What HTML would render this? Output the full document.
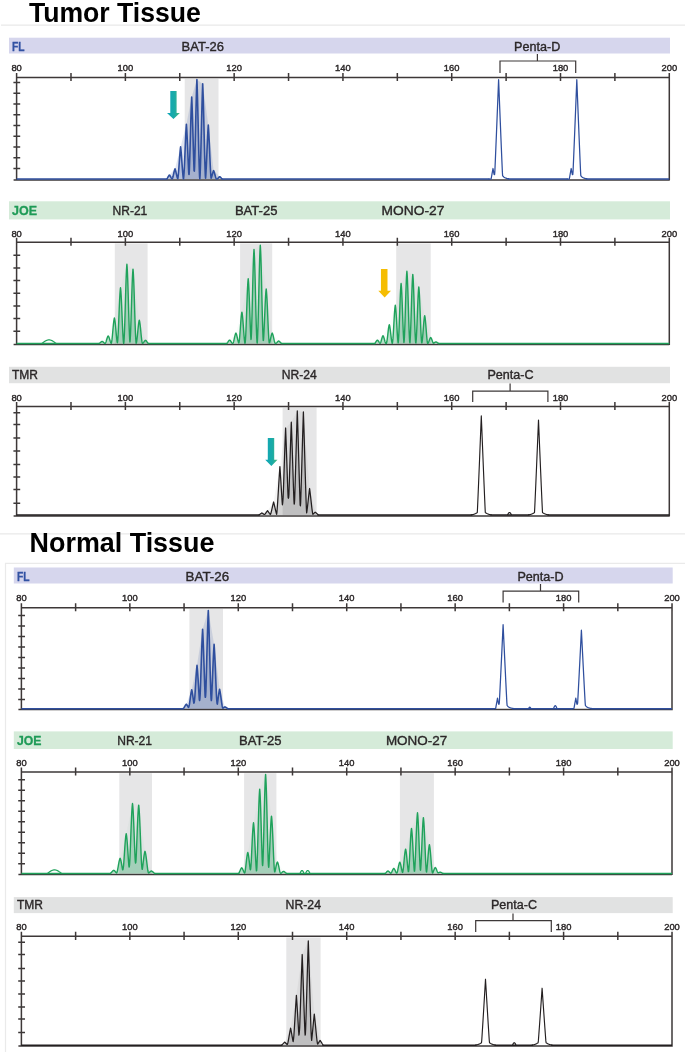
<!DOCTYPE html>
<html><head><meta charset="utf-8"><title>MSI electropherogram</title>
<style>html,body{margin:0;padding:0;background:#fff;}svg{display:block;}#w{width:685px;height:1052px;will-change:transform;transform:translateZ(0);}</style></head>
<body><div id="w">
<svg width="685" height="1052" viewBox="0 0 685 1052" font-family="Liberation Sans, sans-serif">
<rect width="685" height="1052" fill="#ffffff"/>
<path d="M1,25.2 H685 M0,533.8 H685" stroke="#e9e9e9" stroke-width="1.2" fill="none"/>
<path d="M685,563.3 H5.5 V1052" stroke="#eaeaea" stroke-width="1.2" fill="none"/>
<text x="28.9" y="22.2" font-size="28.2" fill="#000" font-weight="bold" text-anchor="start" textLength="172" lengthAdjust="spacingAndGlyphs" >Tumor Tissue</text>
<text x="29.6" y="552" font-size="28.2" fill="#000" font-weight="bold" text-anchor="start" textLength="184.8" lengthAdjust="spacingAndGlyphs" >Normal Tissue</text>
<rect x="9" y="37.7" width="661" height="15.799999999999997" fill="#d6d6ed"/>
<text x="12" y="51" font-size="12" fill="#3252a3" font-weight="bold" text-anchor="start" textLength="12.6" lengthAdjust="spacingAndGlyphs" stroke="#3252a3" stroke-width="0.3">FL</text>
<text x="181.6" y="51" font-size="12" fill="#2b2728" font-weight="normal" text-anchor="start" textLength="42.3" lengthAdjust="spacingAndGlyphs" stroke="#2b2728" stroke-width="0.35">BAT-26</text>
<text x="514.1" y="51" font-size="12" fill="#2b2728" font-weight="normal" text-anchor="start" textLength="46.2" lengthAdjust="spacingAndGlyphs" stroke="#2b2728" stroke-width="0.35">Penta-D</text>
<rect x="184.7" y="78.7" width="33.80000000000001" height="100.60000000000001" fill="#e6e6e7"/>
<text x="16.6" y="70.89999999999999" font-size="9.4" fill="#2b2728" font-weight="normal" text-anchor="middle" stroke="#2b2728" stroke-width="0.4">80</text>
<text x="125.4" y="70.89999999999999" font-size="9.4" fill="#2b2728" font-weight="normal" text-anchor="middle" stroke="#2b2728" stroke-width="0.4">100</text>
<text x="234.2" y="70.89999999999999" font-size="9.4" fill="#2b2728" font-weight="normal" text-anchor="middle" stroke="#2b2728" stroke-width="0.4">120</text>
<text x="342.9" y="70.89999999999999" font-size="9.4" fill="#2b2728" font-weight="normal" text-anchor="middle" stroke="#2b2728" stroke-width="0.4">140</text>
<text x="451.7" y="70.89999999999999" font-size="9.4" fill="#2b2728" font-weight="normal" text-anchor="middle" stroke="#2b2728" stroke-width="0.4">160</text>
<text x="560.5" y="70.89999999999999" font-size="9.4" fill="#2b2728" font-weight="normal" text-anchor="middle" stroke="#2b2728" stroke-width="0.4">180</text>
<text x="669.3" y="70.89999999999999" font-size="9.4" fill="#2b2728" font-weight="normal" text-anchor="middle" stroke="#2b2728" stroke-width="0.4">200</text>
<path d="M16.6,77.5 H669.3 M16.60,73.0 V81.1 M70.99,73.0 V81.1 M125.38,73.0 V81.1 M179.77,73.0 V81.1 M234.16,73.0 V81.1 M288.55,73.0 V81.1 M342.94,73.0 V81.1 M397.33,73.0 V81.1 M451.72,73.0 V81.1 M506.11,73.0 V81.1 M560.50,73.0 V81.1 M614.89,73.0 V81.1 M669.28,73.0 V81.1 M16.6,73.2 V180.5 M13.400000000000002,82.5 H20.200000000000003 M13.400000000000002,93.25 H20.200000000000003 M13.400000000000002,104.0 H20.200000000000003 M13.400000000000002,114.75 H20.200000000000003 M13.400000000000002,125.5 H20.200000000000003 M13.400000000000002,136.25 H20.200000000000003 M13.400000000000002,147.0 H20.200000000000003 M13.400000000000002,157.75 H20.200000000000003 M13.400000000000002,168.5 H20.200000000000003 M669.3,73.2 V180.5 M13.600000000000001,179.9 H669.3 " stroke="#3d3838" stroke-width="1.5" fill="none"/>
<path d="M537.4,54 V61 M500,72.9 V61 H575.7 V72.9" stroke="#3d3838" stroke-width="1.2" fill="none"/>
<path d="M166.58,179.00 L166.58,179.00 L166.58,179.00 L166.83,178.80 L167.08,178.52 L167.33,178.17 L167.58,177.78 L167.83,177.36 L168.08,176.92 L168.33,176.48 L168.58,176.07 L168.83,175.68 L169.08,175.35 L169.33,175.07 L169.40,175.00 L169.58,175.18 L169.83,175.49 L170.08,175.85 L170.33,176.25 L170.58,176.67 L170.83,177.11 L171.08,177.55 L171.33,177.96 L171.58,178.33 L171.83,178.65 L172.08,178.90 L172.33,178.72 L172.58,178.08 L172.83,177.26 L173.08,176.31 L173.33,175.25 L173.58,174.14 L173.83,173.02 L174.08,171.93 L174.33,170.92 L174.58,170.01 L174.83,169.24 L175.00,168.80 L175.08,169.00 L175.33,169.72 L175.58,170.58 L175.83,171.56 L176.08,172.62 L176.33,173.74 L176.58,174.86 L176.83,175.94 L177.08,176.93 L177.33,177.80 L177.58,178.52 L177.83,178.75 L178.08,176.99 L178.33,174.62 L178.58,171.78 L178.83,168.57 L179.08,165.13 L179.33,161.60 L179.58,158.11 L179.83,154.81 L180.08,151.81 L180.33,149.20 L180.58,147.05 L180.60,146.90 L180.83,148.83 L181.08,151.37 L181.33,154.31 L181.58,157.57 L181.83,161.03 L182.08,164.57 L182.33,168.03 L182.58,171.28 L182.83,174.20 L183.08,176.65 L183.33,178.52 L183.58,178.99 L183.83,176.26 L184.08,172.41 L184.33,167.70 L184.58,162.33 L184.83,156.52 L185.08,150.50 L185.33,144.51 L185.58,138.80 L185.83,133.56 L186.08,128.96 L186.33,125.13 L186.40,124.20 L186.58,126.72 L186.83,130.90 L187.08,135.79 L187.33,141.26 L187.58,147.13 L187.83,153.16 L188.08,159.11 L188.33,164.76 L188.58,169.86 L188.83,174.22 L189.08,174.51 L189.33,170.40 L189.58,163.58 L189.83,155.72 L190.08,147.13 L190.33,138.16 L190.58,129.16 L190.83,120.50 L191.08,112.50 L191.33,105.42 L191.58,99.44 L191.70,97.00 L191.83,99.66 L192.08,105.68 L192.33,112.81 L192.58,120.84 L192.83,129.52 L193.08,138.52 L193.33,147.49 L193.58,156.05 L193.83,163.88 L194.08,170.62 L194.33,171.09 L194.58,167.03 L194.83,158.48 L195.08,148.73 L195.33,138.18 L195.58,127.25 L195.83,116.38 L196.08,106.00 L196.33,96.49 L196.58,88.15 L196.83,81.19 L196.90,79.50 L197.08,84.07 L197.33,91.66 L197.58,100.55 L197.83,110.48 L198.08,121.13 L198.33,132.07 L198.58,142.89 L198.83,153.14 L199.08,162.41 L199.33,170.32 L199.58,176.52 L199.83,179.00 L200.08,175.38 L200.33,169.02 L200.58,161.12 L200.83,152.00 L201.08,142.04 L201.33,131.63 L201.58,121.20 L201.83,111.16 L202.08,101.88 L202.33,93.66 L202.58,86.73 L202.70,83.90 L202.83,86.98 L203.08,93.97 L203.33,102.23 L203.58,111.55 L203.83,121.61 L204.08,132.05 L204.33,142.45 L204.58,152.39 L204.83,161.46 L205.08,169.31 L205.33,175.59 L205.58,178.09 L205.83,174.89 L206.08,170.74 L206.33,165.81 L206.58,160.32 L206.83,154.48 L207.08,148.54 L207.33,142.72 L207.58,137.25 L207.83,132.33 L208.08,128.09 L208.30,125.00 L208.33,125.38 L208.58,129.04 L208.83,133.45 L209.08,138.52 L209.33,144.09 L209.58,149.96 L209.83,155.90 L210.08,161.68 L210.33,167.05 L210.58,171.81 L210.83,175.69 L211.08,178.14 L211.33,177.85 L211.58,177.11 L211.83,176.27 L212.08,175.37 L212.33,174.45 L212.58,173.53 L212.83,172.67 L213.08,171.89 L213.33,171.20 L213.58,170.64 L213.60,170.60 L213.83,171.10 L214.08,171.77 L214.33,172.54 L214.58,173.39 L214.83,174.30 L215.08,175.22 L215.33,176.13 L215.58,176.98 L215.83,177.74 L216.08,178.38 L216.33,178.87 L216.58,179.00 L216.83,179.00 L217.08,178.91 L217.33,178.76 L217.58,178.57 L217.83,178.35 L218.08,178.11 L218.33,177.85 L218.58,177.60 L218.83,177.36 L219.08,177.13 L219.33,176.94 L219.58,176.77 L219.70,176.70 L219.83,176.77 L220.08,176.94 L220.33,177.14 L220.58,177.37 L220.83,177.61 L221.08,177.86 L221.33,178.12 L221.58,178.36 L221.83,178.58 L222.08,178.77 L222.33,178.92 L222.52,179.00 L222.52,179.00 Z" fill="#2f4f9e" fill-opacity="0.24" stroke="none"/>
<path d="M168.14,179.00 L169.40,175.00 L175.00,168.80 L180.60,146.90 L186.40,124.20 L191.70,97.00 L196.90,79.50 L202.70,83.90 L208.30,125.00 L213.60,170.60 L219.70,176.70 L220.96,179.00 Z" fill="#2f4f9e" fill-opacity="0.15" stroke="none"/>
<path d="M16.60,179.0 H167.58 M221.52,179.0 H489.60 M507.60,179.0 H567.80 M585.80,179.0 H669.3" stroke="#2f4f9e" stroke-width="1.45" fill="none"/>
<path d="M488.60,179.00 L488.60,179.00 L488.60,179.00 L488.85,179.00 L489.10,179.00 L489.35,179.00 L489.60,179.00 L489.85,179.00 L490.10,179.00 L490.35,179.00 L490.60,179.00 L490.85,179.00 L491.10,179.00 L491.35,177.62 L491.60,176.24 L491.85,174.86 L492.10,173.47 L492.35,172.09 L492.60,170.71 L492.85,169.33 L493.00,168.50 L493.10,169.05 L493.35,170.43 L493.60,171.82 L493.85,173.20 L494.10,174.50 L494.35,174.50 L494.60,174.50 L494.85,171.50 L494.90,170.38 L495.10,165.80 L495.35,159.97 L495.60,154.05 L495.85,148.07 L496.10,142.03 L496.35,135.94 L496.60,129.81 L496.85,123.65 L497.10,117.45 L497.35,111.22 L497.60,104.96 L497.85,98.68 L498.10,92.37 L498.35,86.05 L498.60,79.70 L498.85,86.05 L499.10,92.37 L499.35,98.68 L499.60,104.96 L499.85,111.22 L500.10,117.45 L500.35,123.65 L500.60,129.81 L500.85,135.94 L501.10,142.03 L501.20,144.45 L501.35,148.07 L501.60,154.05 L501.85,159.97 L502.10,165.80 L502.35,171.50 L502.60,175.65 L502.85,175.98 L503.10,176.28 L503.35,176.55 L503.60,176.79 L503.85,177.01 L504.10,177.21 L504.35,177.39 L504.60,177.54 L504.85,177.69 L505.10,177.82 L505.35,177.94 L505.60,178.04 L505.85,178.14 L506.10,178.22 L506.35,178.30 L506.60,178.37 L506.85,178.43 L507.10,178.49 L507.35,178.54 L507.60,178.58 L507.85,178.62 L508.10,178.66 L508.35,178.69 L508.60,178.73 L508.60,179.00 L508.60,179.00" stroke="#2f4f9e" stroke-width="1.25" fill="none" stroke-linejoin="round"/>
<path d="M566.80,179.00 L566.80,179.00 L566.80,179.00 L567.05,179.00 L567.30,179.00 L567.55,179.00 L567.80,179.00 L568.05,179.00 L568.30,179.00 L568.55,179.00 L568.80,179.00 L569.05,179.00 L569.30,179.00 L569.55,177.62 L569.80,176.24 L570.05,174.86 L570.30,173.47 L570.55,172.09 L570.80,170.71 L571.05,169.33 L571.20,168.50 L571.30,169.05 L571.55,170.43 L571.80,171.82 L572.05,173.20 L572.30,174.50 L572.55,174.50 L572.80,174.50 L573.05,171.50 L573.10,170.38 L573.30,165.80 L573.55,159.97 L573.80,154.05 L574.05,148.07 L574.30,142.03 L574.55,135.94 L574.80,129.81 L575.05,123.65 L575.30,117.45 L575.55,111.22 L575.80,104.96 L576.05,98.68 L576.30,92.37 L576.55,86.05 L576.80,79.70 L577.05,86.05 L577.30,92.37 L577.55,98.68 L577.80,104.96 L578.05,111.22 L578.30,117.45 L578.55,123.65 L578.80,129.81 L579.05,135.94 L579.30,142.03 L579.40,144.45 L579.55,148.07 L579.80,154.05 L580.05,159.97 L580.30,165.80 L580.55,171.50 L580.80,175.65 L581.05,175.98 L581.30,176.28 L581.55,176.55 L581.80,176.79 L582.05,177.01 L582.30,177.21 L582.55,177.39 L582.80,177.54 L583.05,177.69 L583.30,177.82 L583.55,177.94 L583.80,178.04 L584.05,178.14 L584.30,178.22 L584.55,178.30 L584.80,178.37 L585.05,178.43 L585.30,178.49 L585.55,178.54 L585.80,178.58 L586.05,178.62 L586.30,178.66 L586.55,178.69 L586.80,178.73 L586.80,179.00 L586.80,179.00" stroke="#2f4f9e" stroke-width="1.25" fill="none" stroke-linejoin="round"/>
<path d="M166.58,179.00 L166.58,179.00 L166.58,179.00 L166.83,178.80 L167.08,178.52 L167.33,178.17 L167.58,177.78 L167.83,177.36 L168.08,176.92 L168.33,176.48 L168.58,176.07 L168.83,175.68 L169.08,175.35 L169.33,175.07 L169.40,175.00 L169.58,175.18 L169.83,175.49 L170.08,175.85 L170.33,176.25 L170.58,176.67 L170.83,177.11 L171.08,177.55 L171.33,177.96 L171.58,178.33 L171.83,178.65 L172.08,178.90 L172.33,178.72 L172.58,178.08 L172.83,177.26 L173.08,176.31 L173.33,175.25 L173.58,174.14 L173.83,173.02 L174.08,171.93 L174.33,170.92 L174.58,170.01 L174.83,169.24 L175.00,168.80 L175.08,169.00 L175.33,169.72 L175.58,170.58 L175.83,171.56 L176.08,172.62 L176.33,173.74 L176.58,174.86 L176.83,175.94 L177.08,176.93 L177.33,177.80 L177.58,178.52 L177.83,178.75 L178.08,176.99 L178.33,174.62 L178.58,171.78 L178.83,168.57 L179.08,165.13 L179.33,161.60 L179.58,158.11 L179.83,154.81 L180.08,151.81 L180.33,149.20 L180.58,147.05 L180.60,146.90 L180.83,148.83 L181.08,151.37 L181.33,154.31 L181.58,157.57 L181.83,161.03 L182.08,164.57 L182.33,168.03 L182.58,171.28 L182.83,174.20 L183.08,176.65 L183.33,178.52 L183.58,178.99 L183.83,176.26 L184.08,172.41 L184.33,167.70 L184.58,162.33 L184.83,156.52 L185.08,150.50 L185.33,144.51 L185.58,138.80 L185.83,133.56 L186.08,128.96 L186.33,125.13 L186.40,124.20 L186.58,126.72 L186.83,130.90 L187.08,135.79 L187.33,141.26 L187.58,147.13 L187.83,153.16 L188.08,159.11 L188.33,164.76 L188.58,169.86 L188.83,174.22 L189.08,174.51 L189.33,170.40 L189.58,163.58 L189.83,155.72 L190.08,147.13 L190.33,138.16 L190.58,129.16 L190.83,120.50 L191.08,112.50 L191.33,105.42 L191.58,99.44 L191.70,97.00 L191.83,99.66 L192.08,105.68 L192.33,112.81 L192.58,120.84 L192.83,129.52 L193.08,138.52 L193.33,147.49 L193.58,156.05 L193.83,163.88 L194.08,170.62 L194.33,171.09 L194.58,167.03 L194.83,158.48 L195.08,148.73 L195.33,138.18 L195.58,127.25 L195.83,116.38 L196.08,106.00 L196.33,96.49 L196.58,88.15 L196.83,81.19 L196.90,79.50 L197.08,84.07 L197.33,91.66 L197.58,100.55 L197.83,110.48 L198.08,121.13 L198.33,132.07 L198.58,142.89 L198.83,153.14 L199.08,162.41 L199.33,170.32 L199.58,176.52 L199.83,179.00 L200.08,175.38 L200.33,169.02 L200.58,161.12 L200.83,152.00 L201.08,142.04 L201.33,131.63 L201.58,121.20 L201.83,111.16 L202.08,101.88 L202.33,93.66 L202.58,86.73 L202.70,83.90 L202.83,86.98 L203.08,93.97 L203.33,102.23 L203.58,111.55 L203.83,121.61 L204.08,132.05 L204.33,142.45 L204.58,152.39 L204.83,161.46 L205.08,169.31 L205.33,175.59 L205.58,178.09 L205.83,174.89 L206.08,170.74 L206.33,165.81 L206.58,160.32 L206.83,154.48 L207.08,148.54 L207.33,142.72 L207.58,137.25 L207.83,132.33 L208.08,128.09 L208.30,125.00 L208.33,125.38 L208.58,129.04 L208.83,133.45 L209.08,138.52 L209.33,144.09 L209.58,149.96 L209.83,155.90 L210.08,161.68 L210.33,167.05 L210.58,171.81 L210.83,175.69 L211.08,178.14 L211.33,177.85 L211.58,177.11 L211.83,176.27 L212.08,175.37 L212.33,174.45 L212.58,173.53 L212.83,172.67 L213.08,171.89 L213.33,171.20 L213.58,170.64 L213.60,170.60 L213.83,171.10 L214.08,171.77 L214.33,172.54 L214.58,173.39 L214.83,174.30 L215.08,175.22 L215.33,176.13 L215.58,176.98 L215.83,177.74 L216.08,178.38 L216.33,178.87 L216.58,179.00 L216.83,179.00 L217.08,178.91 L217.33,178.76 L217.58,178.57 L217.83,178.35 L218.08,178.11 L218.33,177.85 L218.58,177.60 L218.83,177.36 L219.08,177.13 L219.33,176.94 L219.58,176.77 L219.70,176.70 L219.83,176.77 L220.08,176.94 L220.33,177.14 L220.58,177.37 L220.83,177.61 L221.08,177.86 L221.33,178.12 L221.58,178.36 L221.83,178.58 L222.08,178.77 L222.33,178.92 L222.52,179.00 L222.52,179.00" stroke="#2f4f9e" stroke-width="1.6" fill="none" stroke-linejoin="round"/>
<rect x="9" y="201.3" width="661" height="18.099999999999994" fill="#d5ebd9"/>
<text x="12" y="215.1" font-size="12" fill="#1f9b57" font-weight="bold" text-anchor="start" textLength="25" lengthAdjust="spacingAndGlyphs" stroke="#1f9b57" stroke-width="0.3">JOE</text>
<text x="112.5" y="215.1" font-size="12" fill="#2b2728" font-weight="normal" text-anchor="start" textLength="34.8" lengthAdjust="spacingAndGlyphs" stroke="#2b2728" stroke-width="0.35">NR-21</text>
<text x="234.9" y="215.1" font-size="12" fill="#2b2728" font-weight="normal" text-anchor="start" textLength="42.5" lengthAdjust="spacingAndGlyphs" stroke="#2b2728" stroke-width="0.35">BAT-25</text>
<text x="381.6" y="215.1" font-size="12" fill="#2b2728" font-weight="normal" text-anchor="start" textLength="62.7" lengthAdjust="spacingAndGlyphs" stroke="#2b2728" stroke-width="0.35">MONO-27</text>
<rect x="114.8" y="243.39999999999998" width="32.8" height="100.40000000000002" fill="#e6e6e7"/>
<rect x="240.1" y="243.39999999999998" width="32.099999999999994" height="100.40000000000002" fill="#e6e6e7"/>
<rect x="396.2" y="243.39999999999998" width="34.5" height="100.40000000000002" fill="#e6e6e7"/>
<text x="16.6" y="236.70000000000002" font-size="9.4" fill="#2b2728" font-weight="normal" text-anchor="middle" stroke="#2b2728" stroke-width="0.4">80</text>
<text x="125.4" y="236.70000000000002" font-size="9.4" fill="#2b2728" font-weight="normal" text-anchor="middle" stroke="#2b2728" stroke-width="0.4">100</text>
<text x="234.2" y="236.70000000000002" font-size="9.4" fill="#2b2728" font-weight="normal" text-anchor="middle" stroke="#2b2728" stroke-width="0.4">120</text>
<text x="342.9" y="236.70000000000002" font-size="9.4" fill="#2b2728" font-weight="normal" text-anchor="middle" stroke="#2b2728" stroke-width="0.4">140</text>
<text x="451.7" y="236.70000000000002" font-size="9.4" fill="#2b2728" font-weight="normal" text-anchor="middle" stroke="#2b2728" stroke-width="0.4">160</text>
<text x="560.5" y="236.70000000000002" font-size="9.4" fill="#2b2728" font-weight="normal" text-anchor="middle" stroke="#2b2728" stroke-width="0.4">180</text>
<text x="669.3" y="236.70000000000002" font-size="9.4" fill="#2b2728" font-weight="normal" text-anchor="middle" stroke="#2b2728" stroke-width="0.4">200</text>
<path d="M16.6,242.2 H669.3 M16.60,237.7 V245.79999999999998 M70.99,237.7 V245.79999999999998 M125.38,237.7 V245.79999999999998 M179.77,237.7 V245.79999999999998 M234.16,237.7 V245.79999999999998 M288.55,237.7 V245.79999999999998 M342.94,237.7 V245.79999999999998 M397.33,237.7 V245.79999999999998 M451.72,237.7 V245.79999999999998 M506.11,237.7 V245.79999999999998 M560.50,237.7 V245.79999999999998 M614.89,237.7 V245.79999999999998 M669.28,237.7 V245.79999999999998 M16.6,237.89999999999998 V345.0 M13.400000000000002,255.3 H20.200000000000003 M13.400000000000002,267.95 H20.200000000000003 M13.400000000000002,280.6 H20.200000000000003 M13.400000000000002,293.25 H20.200000000000003 M13.400000000000002,305.90000000000003 H20.200000000000003 M13.400000000000002,318.55 H20.200000000000003 M13.400000000000002,331.20000000000005 H20.200000000000003 M669.3,237.89999999999998 V345.0 M13.600000000000001,344.40000000000003 H669.3 " stroke="#3d3838" stroke-width="1.5" fill="none"/>
<path d="M98.94,343.50 L98.94,343.50 L98.94,343.50 L99.19,343.44 L99.44,343.33 L99.69,343.17 L99.94,342.99 L100.19,342.77 L100.44,342.54 L100.69,342.31 L100.94,342.09 L101.19,341.88 L101.44,341.70 L101.69,341.55 L101.94,341.44 L102.10,341.40 L102.19,341.42 L102.44,341.52 L102.69,341.65 L102.94,341.82 L103.19,342.02 L103.44,342.25 L103.69,342.48 L103.94,342.71 L104.19,342.93 L104.44,343.13 L104.69,343.29 L104.94,343.41 L105.19,343.38 L105.44,343.05 L105.69,342.56 L105.94,341.93 L106.19,341.19 L106.44,340.38 L106.69,339.54 L106.94,338.70 L107.19,337.92 L107.44,337.22 L107.69,336.64 L107.94,336.19 L108.19,335.91 L108.20,335.90 L108.44,336.16 L108.69,336.59 L108.94,337.17 L109.19,337.86 L109.44,338.64 L109.69,339.47 L109.94,340.31 L110.19,341.13 L110.44,341.87 L110.69,342.51 L110.94,343.02 L111.19,343.37 L111.44,342.95 L111.69,341.71 L111.94,339.95 L112.19,337.75 L112.44,335.22 L112.69,332.47 L112.94,329.63 L113.19,326.86 L113.44,324.27 L113.69,322.00 L113.94,320.13 L114.19,318.75 L114.40,318.00 L114.44,318.11 L114.69,319.14 L114.94,320.68 L115.19,322.68 L115.44,325.07 L115.69,327.73 L115.94,330.54 L116.19,333.36 L116.44,336.06 L116.69,338.50 L116.94,340.57 L117.19,342.17 L117.44,342.74 L117.69,340.83 L117.94,337.42 L118.19,332.97 L118.44,327.70 L118.69,321.84 L118.94,315.69 L119.19,309.54 L119.44,303.69 L119.69,298.42 L119.94,293.97 L120.19,290.51 L120.44,288.18 L120.50,287.80 L120.69,289.25 L120.94,292.17 L121.19,296.17 L121.44,301.08 L121.69,306.68 L121.94,312.72 L122.19,318.91 L122.44,324.94 L122.69,330.53 L122.94,335.40 L123.19,339.33 L123.44,342.13 L123.69,343.50 L123.94,341.79 L124.19,337.96 L124.44,332.49 L124.69,325.65 L124.94,317.77 L125.19,309.23 L125.44,300.43 L125.69,291.81 L125.94,283.78 L126.19,276.71 L126.44,270.92 L126.69,266.63 L126.90,264.30 L126.94,264.65 L127.19,267.83 L127.44,272.62 L127.69,278.85 L127.94,286.27 L128.19,294.53 L128.44,303.25 L128.69,312.01 L128.94,320.39 L129.19,327.97 L129.44,334.40 L129.69,339.37 L129.94,341.99 L130.19,339.93 L130.44,335.38 L130.69,329.44 L130.94,322.39 L131.19,314.57 L131.44,306.35 L131.69,298.14 L131.94,290.33 L132.19,283.29 L132.44,277.34 L132.69,272.72 L132.94,269.61 L133.00,269.10 L133.19,271.03 L133.44,274.94 L133.69,280.28 L133.94,286.83 L134.19,294.32 L134.44,302.39 L134.69,310.65 L134.94,318.71 L135.19,326.17 L135.44,332.69 L135.69,337.93 L135.94,341.67 L136.19,343.41 L136.44,342.61 L136.69,341.28 L136.94,339.50 L137.19,337.35 L137.44,334.94 L137.69,332.38 L137.94,329.80 L138.19,327.32 L138.44,325.06 L138.69,323.12 L138.94,321.59 L139.19,320.52 L139.30,320.20 L139.44,320.62 L139.69,321.75 L139.94,323.33 L140.19,325.32 L140.44,327.61 L140.69,330.11 L140.94,332.70 L141.19,335.24 L141.44,337.63 L141.69,339.73 L141.94,341.46 L142.19,342.73 L142.44,343.44 L142.69,343.35 L142.94,343.15 L143.19,342.90 L143.44,342.59 L143.69,342.26 L143.94,341.90 L144.19,341.55 L144.44,341.21 L144.69,340.91 L144.94,340.65 L145.19,340.46 L145.44,340.32 L145.50,340.30 L145.69,340.38 L145.94,340.55 L146.19,340.78 L146.44,341.06 L146.69,341.38 L146.94,341.73 L147.19,342.09 L147.44,342.43 L147.69,342.75 L147.94,343.03 L148.19,343.26 L148.44,343.42 L148.66,343.50 L148.66,343.50 Z" fill="#1fa25b" fill-opacity="0.3" stroke="none"/>
<path d="M98.85,343.50 L102.10,341.40 L108.20,335.90 L114.40,318.00 L120.50,287.80 L126.90,264.30 L133.00,269.10 L139.30,320.20 L145.50,340.30 L148.75,343.50 Z" fill="#1fa25b" fill-opacity="0.03" stroke="none"/>
<path d="M226.47,343.50 L226.47,343.50 L226.47,343.50 L226.72,343.40 L226.97,343.22 L227.22,342.97 L227.47,342.66 L227.72,342.31 L227.97,341.93 L228.22,341.55 L228.47,341.18 L228.72,340.85 L228.97,340.55 L229.22,340.32 L229.47,340.16 L229.60,340.10 L229.72,340.15 L229.97,340.31 L230.22,340.54 L230.47,340.83 L230.72,341.17 L230.97,341.54 L231.22,341.92 L231.47,342.29 L231.72,342.65 L231.97,342.96 L232.22,343.21 L232.47,343.39 L232.72,343.50 L232.97,343.28 L233.22,342.77 L233.47,342.04 L233.72,341.13 L233.97,340.08 L234.22,338.94 L234.47,337.77 L234.72,336.63 L234.97,335.58 L235.22,334.65 L235.47,333.90 L235.72,333.36 L235.90,333.10 L235.97,333.19 L236.22,333.64 L236.47,334.30 L236.72,335.15 L236.97,336.16 L237.22,337.27 L237.47,338.43 L237.72,339.58 L237.97,340.68 L238.22,341.66 L238.47,342.47 L238.72,343.08 L238.97,342.77 L239.22,341.28 L239.47,339.08 L239.72,336.33 L239.97,333.16 L240.22,329.73 L240.47,326.21 L240.72,322.77 L240.97,319.58 L241.22,316.79 L241.47,314.52 L241.72,312.87 L241.90,312.10 L241.97,312.36 L242.22,313.72 L242.47,315.72 L242.72,318.29 L242.97,321.33 L243.22,324.68 L243.47,328.19 L243.72,331.68 L243.97,334.98 L244.22,337.93 L244.47,340.39 L244.72,342.23 L244.97,343.36 L245.22,342.56 L245.47,339.68 L245.72,335.40 L245.97,329.94 L246.22,323.56 L246.47,316.58 L246.72,309.33 L246.97,302.17 L247.22,295.47 L247.47,289.53 L247.72,284.63 L247.97,280.96 L248.20,278.80 L248.22,278.94 L248.47,281.46 L248.72,285.33 L248.97,290.41 L249.22,296.50 L249.47,303.30 L249.72,310.49 L249.97,317.72 L250.22,324.63 L250.47,330.89 L250.72,336.17 L250.97,339.43 L251.22,338.32 L251.47,333.12 L251.72,325.49 L251.97,316.45 L252.22,306.42 L252.47,295.91 L252.72,285.44 L252.97,275.52 L253.22,266.62 L253.47,259.16 L253.72,253.46 L253.97,249.71 L254.00,249.40 L254.22,252.37 L254.47,257.62 L254.72,264.69 L254.97,273.27 L255.22,282.99 L255.47,293.38 L255.72,303.92 L255.97,314.11 L256.22,323.43 L256.47,331.44 L256.72,337.73 L256.97,342.00 L257.22,343.14 L257.47,339.71 L257.72,334.03 L257.97,326.41 L258.22,317.23 L258.47,306.92 L258.72,296.00 L258.97,285.01 L259.22,274.48 L259.47,264.94 L259.72,256.82 L259.97,250.47 L260.22,246.14 L260.30,245.20 L260.47,247.46 L260.72,252.53 L260.97,259.55 L261.22,268.23 L261.47,278.19 L261.72,288.94 L261.97,299.97 L262.22,310.73 L262.47,320.69 L262.72,329.36 L262.97,336.32 L263.22,340.43 L263.47,340.28 L263.72,336.68 L263.97,332.08 L264.22,326.71 L264.47,320.82 L264.72,314.71 L264.97,308.69 L265.22,303.04 L265.47,298.04 L265.72,293.91 L265.97,290.82 L266.20,289.00 L266.22,289.12 L266.47,291.24 L266.72,294.50 L266.97,298.78 L267.22,303.91 L267.47,309.63 L267.72,315.69 L267.97,321.78 L268.22,327.61 L268.47,332.87 L268.72,337.33 L268.97,340.75 L269.22,342.82 L269.47,342.89 L269.72,342.20 L269.97,341.32 L270.22,340.30 L270.47,339.17 L270.72,338.01 L270.97,336.86 L271.22,335.78 L271.47,334.82 L271.72,334.04 L271.97,333.45 L272.20,333.10 L272.22,333.12 L272.47,333.53 L272.72,334.15 L272.97,334.97 L273.22,335.94 L273.47,337.04 L273.72,338.19 L273.97,339.36 L274.22,340.47 L274.47,341.47 L274.72,342.32 L274.97,342.98 L275.22,343.40 L275.47,343.50 L275.72,343.46 L275.97,343.35 L276.22,343.19 L276.47,342.98 L276.72,342.73 L276.97,342.46 L277.22,342.18 L277.47,341.90 L277.72,341.64 L277.97,341.41 L278.22,341.23 L278.47,341.08 L278.70,341.00 L278.72,341.01 L278.97,341.10 L279.22,341.25 L279.47,341.45 L279.72,341.68 L279.97,341.95 L280.22,342.22 L280.47,342.50 L280.72,342.77 L280.97,343.01 L281.22,343.22 L281.47,343.37 L281.72,343.48 L281.83,343.50 L281.83,343.50 Z" fill="#1fa25b" fill-opacity="0.3" stroke="none"/>
<path d="M226.40,343.50 L229.60,340.10 L235.90,333.10 L241.90,312.10 L248.20,278.80 L254.00,249.40 L260.30,245.20 L266.20,289.00 L272.20,333.10 L278.70,341.00 L281.90,343.50 Z" fill="#1fa25b" fill-opacity="0.03" stroke="none"/>
<path d="M374.42,343.50 L374.42,343.50 L374.42,343.50 L374.67,343.39 L374.92,343.19 L375.17,342.92 L375.42,342.59 L375.67,342.21 L375.92,341.82 L376.17,341.42 L376.42,341.04 L376.67,340.71 L376.92,340.43 L377.17,340.22 L377.40,340.10 L377.42,340.11 L377.67,340.25 L377.92,340.47 L378.17,340.76 L378.42,341.10 L378.67,341.48 L378.92,341.88 L379.17,342.27 L379.42,342.64 L379.67,342.97 L379.92,343.23 L380.17,343.29 L380.42,343.00 L380.67,342.44 L380.92,341.73 L381.17,340.90 L381.42,340.00 L381.67,339.08 L381.92,338.20 L382.17,337.38 L382.42,336.69 L382.67,336.15 L382.92,335.78 L383.00,335.70 L383.17,335.89 L383.42,336.32 L383.67,336.92 L383.92,337.66 L384.17,338.51 L384.42,339.41 L384.67,340.33 L384.92,341.21 L385.17,342.00 L385.42,342.66 L385.67,343.16 L385.92,343.46 L386.17,343.50 L386.42,343.32 L386.67,342.51 L386.92,341.24 L387.17,339.59 L387.42,337.65 L387.67,335.51 L387.92,333.30 L388.17,331.13 L388.42,329.13 L388.67,327.39 L388.92,326.00 L389.17,325.03 L389.30,324.70 L389.42,325.00 L389.67,325.96 L389.92,327.33 L390.17,329.05 L390.42,331.05 L390.67,333.21 L390.92,335.42 L391.17,337.56 L391.42,339.52 L391.67,341.18 L391.92,342.47 L392.17,343.30 L392.42,343.13 L392.67,341.48 L392.92,338.89 L393.17,335.52 L393.42,331.55 L393.67,327.18 L393.92,322.66 L394.17,318.24 L394.42,314.15 L394.67,310.60 L394.92,307.76 L395.17,305.78 L395.30,305.10 L395.42,305.72 L395.67,307.67 L395.92,310.47 L396.17,313.99 L396.42,318.07 L396.67,322.48 L396.92,327.00 L397.17,331.38 L397.42,335.37 L397.67,338.77 L397.92,341.39 L398.17,342.84 L398.42,340.98 L398.67,337.21 L398.92,332.17 L399.17,326.12 L399.42,319.40 L399.67,312.36 L399.92,305.38 L400.17,298.86 L400.42,293.11 L400.67,288.45 L400.92,285.07 L401.10,283.50 L401.17,284.02 L401.42,286.79 L401.67,290.91 L401.92,296.21 L402.17,302.43 L402.42,309.26 L402.67,316.31 L402.92,323.23 L403.17,329.61 L403.42,335.14 L403.67,339.49 L403.92,342.44 L404.17,341.17 L404.42,336.97 L404.67,331.19 L404.92,324.12 L405.17,316.16 L405.42,307.73 L405.67,299.28 L405.92,291.28 L406.17,284.16 L406.42,278.26 L406.67,273.87 L406.90,271.30 L406.92,271.47 L407.17,274.46 L407.42,279.11 L407.67,285.22 L407.92,292.52 L408.17,300.61 L408.42,309.09 L408.67,317.48 L408.92,325.33 L409.17,332.21 L409.42,337.76 L409.67,341.67 L409.92,342.84 L410.17,339.86 L410.42,335.20 L410.67,329.14 L410.92,321.99 L411.17,314.13 L411.42,306.00 L411.67,298.04 L411.92,290.68 L412.17,284.29 L412.42,279.20 L412.67,275.62 L412.80,274.40 L412.92,275.51 L413.17,279.02 L413.42,284.06 L413.67,290.40 L413.92,297.74 L414.17,305.68 L414.42,313.81 L414.67,321.68 L414.92,328.87 L415.17,334.99 L415.42,339.70 L415.67,342.76 L415.92,342.96 L416.17,340.52 L416.42,336.72 L416.67,331.76 L416.92,325.91 L417.17,319.49 L417.42,312.84 L417.67,306.33 L417.92,300.31 L418.17,295.09 L418.42,290.92 L418.67,288.00 L418.80,287.00 L418.92,287.91 L419.17,290.78 L419.42,294.90 L419.67,300.08 L419.92,306.08 L420.17,312.58 L420.42,319.22 L420.67,325.66 L420.92,331.54 L421.17,336.54 L421.42,340.40 L421.67,342.89 L421.92,342.84 L422.17,341.35 L422.42,339.23 L422.67,336.59 L422.92,333.57 L423.17,330.33 L423.42,327.06 L423.67,323.92 L423.92,321.09 L424.17,318.70 L424.42,316.88 L424.67,315.70 L424.70,315.60 L424.92,316.54 L425.17,318.21 L425.42,320.47 L425.67,323.21 L425.92,326.28 L426.17,329.54 L426.42,332.81 L426.67,335.90 L426.92,338.64 L427.17,340.90 L427.42,342.55 L427.67,343.48 L427.92,343.36 L428.17,343.04 L428.42,342.58 L428.67,342.01 L428.92,341.36 L429.17,340.67 L429.42,339.96 L429.67,339.29 L429.92,338.68 L430.17,338.17 L430.42,337.78 L430.67,337.52 L430.70,337.50 L430.92,337.70 L431.17,338.06 L431.42,338.55 L431.67,339.14 L431.92,339.80 L432.17,340.50 L432.42,341.20 L432.67,341.86 L432.92,342.45 L433.17,342.89 L433.42,343.15 L433.67,343.22 L433.92,343.07 L434.17,342.89 L434.42,342.71 L434.67,342.52 L434.92,342.34 L435.17,342.18 L435.42,342.05 L435.67,341.96 L435.90,341.90 L435.92,341.90 L436.17,341.97 L436.42,342.07 L436.67,342.21 L436.92,342.37 L437.17,342.55 L437.42,342.74 L437.67,342.92 L437.92,343.10 L438.17,343.25 L438.42,343.37 L438.67,343.46 L438.88,343.50 L438.88,343.50 Z" fill="#1fa25b" fill-opacity="0.3" stroke="none"/>
<path d="M374.27,343.50 L377.40,340.10 L383.00,335.70 L389.30,324.70 L395.30,305.10 L401.10,283.50 L406.90,271.30 L412.80,274.40 L418.80,287.00 L424.70,315.60 L430.70,337.50 L435.90,341.90 L439.02,343.50 Z" fill="#1fa25b" fill-opacity="0.03" stroke="none"/>
<path d="M16.60,343.5 H99.94 M147.66,343.5 H227.47 M280.83,343.5 H375.42 M437.88,343.5 H669.3" stroke="#1fa25b" stroke-width="1.45" fill="none"/>
<path d="M41.90,343.50 L41.90,343.50 L41.90,343.50 L42.15,343.30 L42.40,343.10 L42.65,342.91 L42.90,342.71 L43.15,342.52 L43.40,342.33 L43.65,342.14 L43.90,341.96 L44.15,341.78 L44.40,341.61 L44.65,341.44 L44.90,341.28 L45.15,341.13 L45.40,340.98 L45.65,340.84 L45.90,340.71 L46.15,340.59 L46.40,340.48 L46.65,340.38 L46.90,340.28 L47.15,340.20 L47.40,340.12 L47.65,340.06 L47.90,340.01 L48.15,339.96 L48.40,339.93 L48.65,339.91 L48.90,339.90 L49.15,339.90 L49.40,339.91 L49.65,339.94 L49.90,339.97 L50.15,340.02 L50.40,340.07 L50.65,340.14 L50.90,340.21 L51.15,340.30 L51.40,340.40 L51.65,340.50 L51.90,340.62 L52.15,340.74 L52.40,340.87 L52.65,341.01 L52.90,341.16 L53.15,341.31 L53.40,341.48 L53.65,341.64 L53.90,341.82 L54.15,341.99 L54.40,342.18 L54.65,342.36 L54.90,342.56 L55.15,342.75 L55.40,342.94 L55.65,343.14 L55.90,343.34 L56.10,343.50 L56.10,343.50" stroke="#1fa25b" stroke-width="1.2" fill="none" stroke-linejoin="round"/>
<path d="M98.94,343.50 L98.94,343.50 L98.94,343.50 L99.19,343.44 L99.44,343.33 L99.69,343.17 L99.94,342.99 L100.19,342.77 L100.44,342.54 L100.69,342.31 L100.94,342.09 L101.19,341.88 L101.44,341.70 L101.69,341.55 L101.94,341.44 L102.10,341.40 L102.19,341.42 L102.44,341.52 L102.69,341.65 L102.94,341.82 L103.19,342.02 L103.44,342.25 L103.69,342.48 L103.94,342.71 L104.19,342.93 L104.44,343.13 L104.69,343.29 L104.94,343.41 L105.19,343.38 L105.44,343.05 L105.69,342.56 L105.94,341.93 L106.19,341.19 L106.44,340.38 L106.69,339.54 L106.94,338.70 L107.19,337.92 L107.44,337.22 L107.69,336.64 L107.94,336.19 L108.19,335.91 L108.20,335.90 L108.44,336.16 L108.69,336.59 L108.94,337.17 L109.19,337.86 L109.44,338.64 L109.69,339.47 L109.94,340.31 L110.19,341.13 L110.44,341.87 L110.69,342.51 L110.94,343.02 L111.19,343.37 L111.44,342.95 L111.69,341.71 L111.94,339.95 L112.19,337.75 L112.44,335.22 L112.69,332.47 L112.94,329.63 L113.19,326.86 L113.44,324.27 L113.69,322.00 L113.94,320.13 L114.19,318.75 L114.40,318.00 L114.44,318.11 L114.69,319.14 L114.94,320.68 L115.19,322.68 L115.44,325.07 L115.69,327.73 L115.94,330.54 L116.19,333.36 L116.44,336.06 L116.69,338.50 L116.94,340.57 L117.19,342.17 L117.44,342.74 L117.69,340.83 L117.94,337.42 L118.19,332.97 L118.44,327.70 L118.69,321.84 L118.94,315.69 L119.19,309.54 L119.44,303.69 L119.69,298.42 L119.94,293.97 L120.19,290.51 L120.44,288.18 L120.50,287.80 L120.69,289.25 L120.94,292.17 L121.19,296.17 L121.44,301.08 L121.69,306.68 L121.94,312.72 L122.19,318.91 L122.44,324.94 L122.69,330.53 L122.94,335.40 L123.19,339.33 L123.44,342.13 L123.69,343.50 L123.94,341.79 L124.19,337.96 L124.44,332.49 L124.69,325.65 L124.94,317.77 L125.19,309.23 L125.44,300.43 L125.69,291.81 L125.94,283.78 L126.19,276.71 L126.44,270.92 L126.69,266.63 L126.90,264.30 L126.94,264.65 L127.19,267.83 L127.44,272.62 L127.69,278.85 L127.94,286.27 L128.19,294.53 L128.44,303.25 L128.69,312.01 L128.94,320.39 L129.19,327.97 L129.44,334.40 L129.69,339.37 L129.94,341.99 L130.19,339.93 L130.44,335.38 L130.69,329.44 L130.94,322.39 L131.19,314.57 L131.44,306.35 L131.69,298.14 L131.94,290.33 L132.19,283.29 L132.44,277.34 L132.69,272.72 L132.94,269.61 L133.00,269.10 L133.19,271.03 L133.44,274.94 L133.69,280.28 L133.94,286.83 L134.19,294.32 L134.44,302.39 L134.69,310.65 L134.94,318.71 L135.19,326.17 L135.44,332.69 L135.69,337.93 L135.94,341.67 L136.19,343.41 L136.44,342.61 L136.69,341.28 L136.94,339.50 L137.19,337.35 L137.44,334.94 L137.69,332.38 L137.94,329.80 L138.19,327.32 L138.44,325.06 L138.69,323.12 L138.94,321.59 L139.19,320.52 L139.30,320.20 L139.44,320.62 L139.69,321.75 L139.94,323.33 L140.19,325.32 L140.44,327.61 L140.69,330.11 L140.94,332.70 L141.19,335.24 L141.44,337.63 L141.69,339.73 L141.94,341.46 L142.19,342.73 L142.44,343.44 L142.69,343.35 L142.94,343.15 L143.19,342.90 L143.44,342.59 L143.69,342.26 L143.94,341.90 L144.19,341.55 L144.44,341.21 L144.69,340.91 L144.94,340.65 L145.19,340.46 L145.44,340.32 L145.50,340.30 L145.69,340.38 L145.94,340.55 L146.19,340.78 L146.44,341.06 L146.69,341.38 L146.94,341.73 L147.19,342.09 L147.44,342.43 L147.69,342.75 L147.94,343.03 L148.19,343.26 L148.44,343.42 L148.66,343.50 L148.66,343.50" stroke="#1fa25b" stroke-width="1.4" fill="none" stroke-linejoin="round"/>
<path d="M226.47,343.50 L226.47,343.50 L226.47,343.50 L226.72,343.40 L226.97,343.22 L227.22,342.97 L227.47,342.66 L227.72,342.31 L227.97,341.93 L228.22,341.55 L228.47,341.18 L228.72,340.85 L228.97,340.55 L229.22,340.32 L229.47,340.16 L229.60,340.10 L229.72,340.15 L229.97,340.31 L230.22,340.54 L230.47,340.83 L230.72,341.17 L230.97,341.54 L231.22,341.92 L231.47,342.29 L231.72,342.65 L231.97,342.96 L232.22,343.21 L232.47,343.39 L232.72,343.50 L232.97,343.28 L233.22,342.77 L233.47,342.04 L233.72,341.13 L233.97,340.08 L234.22,338.94 L234.47,337.77 L234.72,336.63 L234.97,335.58 L235.22,334.65 L235.47,333.90 L235.72,333.36 L235.90,333.10 L235.97,333.19 L236.22,333.64 L236.47,334.30 L236.72,335.15 L236.97,336.16 L237.22,337.27 L237.47,338.43 L237.72,339.58 L237.97,340.68 L238.22,341.66 L238.47,342.47 L238.72,343.08 L238.97,342.77 L239.22,341.28 L239.47,339.08 L239.72,336.33 L239.97,333.16 L240.22,329.73 L240.47,326.21 L240.72,322.77 L240.97,319.58 L241.22,316.79 L241.47,314.52 L241.72,312.87 L241.90,312.10 L241.97,312.36 L242.22,313.72 L242.47,315.72 L242.72,318.29 L242.97,321.33 L243.22,324.68 L243.47,328.19 L243.72,331.68 L243.97,334.98 L244.22,337.93 L244.47,340.39 L244.72,342.23 L244.97,343.36 L245.22,342.56 L245.47,339.68 L245.72,335.40 L245.97,329.94 L246.22,323.56 L246.47,316.58 L246.72,309.33 L246.97,302.17 L247.22,295.47 L247.47,289.53 L247.72,284.63 L247.97,280.96 L248.20,278.80 L248.22,278.94 L248.47,281.46 L248.72,285.33 L248.97,290.41 L249.22,296.50 L249.47,303.30 L249.72,310.49 L249.97,317.72 L250.22,324.63 L250.47,330.89 L250.72,336.17 L250.97,339.43 L251.22,338.32 L251.47,333.12 L251.72,325.49 L251.97,316.45 L252.22,306.42 L252.47,295.91 L252.72,285.44 L252.97,275.52 L253.22,266.62 L253.47,259.16 L253.72,253.46 L253.97,249.71 L254.00,249.40 L254.22,252.37 L254.47,257.62 L254.72,264.69 L254.97,273.27 L255.22,282.99 L255.47,293.38 L255.72,303.92 L255.97,314.11 L256.22,323.43 L256.47,331.44 L256.72,337.73 L256.97,342.00 L257.22,343.14 L257.47,339.71 L257.72,334.03 L257.97,326.41 L258.22,317.23 L258.47,306.92 L258.72,296.00 L258.97,285.01 L259.22,274.48 L259.47,264.94 L259.72,256.82 L259.97,250.47 L260.22,246.14 L260.30,245.20 L260.47,247.46 L260.72,252.53 L260.97,259.55 L261.22,268.23 L261.47,278.19 L261.72,288.94 L261.97,299.97 L262.22,310.73 L262.47,320.69 L262.72,329.36 L262.97,336.32 L263.22,340.43 L263.47,340.28 L263.72,336.68 L263.97,332.08 L264.22,326.71 L264.47,320.82 L264.72,314.71 L264.97,308.69 L265.22,303.04 L265.47,298.04 L265.72,293.91 L265.97,290.82 L266.20,289.00 L266.22,289.12 L266.47,291.24 L266.72,294.50 L266.97,298.78 L267.22,303.91 L267.47,309.63 L267.72,315.69 L267.97,321.78 L268.22,327.61 L268.47,332.87 L268.72,337.33 L268.97,340.75 L269.22,342.82 L269.47,342.89 L269.72,342.20 L269.97,341.32 L270.22,340.30 L270.47,339.17 L270.72,338.01 L270.97,336.86 L271.22,335.78 L271.47,334.82 L271.72,334.04 L271.97,333.45 L272.20,333.10 L272.22,333.12 L272.47,333.53 L272.72,334.15 L272.97,334.97 L273.22,335.94 L273.47,337.04 L273.72,338.19 L273.97,339.36 L274.22,340.47 L274.47,341.47 L274.72,342.32 L274.97,342.98 L275.22,343.40 L275.47,343.50 L275.72,343.46 L275.97,343.35 L276.22,343.19 L276.47,342.98 L276.72,342.73 L276.97,342.46 L277.22,342.18 L277.47,341.90 L277.72,341.64 L277.97,341.41 L278.22,341.23 L278.47,341.08 L278.70,341.00 L278.72,341.01 L278.97,341.10 L279.22,341.25 L279.47,341.45 L279.72,341.68 L279.97,341.95 L280.22,342.22 L280.47,342.50 L280.72,342.77 L280.97,343.01 L281.22,343.22 L281.47,343.37 L281.72,343.48 L281.83,343.50 L281.83,343.50" stroke="#1fa25b" stroke-width="1.4" fill="none" stroke-linejoin="round"/>
<path d="M374.42,343.50 L374.42,343.50 L374.42,343.50 L374.67,343.39 L374.92,343.19 L375.17,342.92 L375.42,342.59 L375.67,342.21 L375.92,341.82 L376.17,341.42 L376.42,341.04 L376.67,340.71 L376.92,340.43 L377.17,340.22 L377.40,340.10 L377.42,340.11 L377.67,340.25 L377.92,340.47 L378.17,340.76 L378.42,341.10 L378.67,341.48 L378.92,341.88 L379.17,342.27 L379.42,342.64 L379.67,342.97 L379.92,343.23 L380.17,343.29 L380.42,343.00 L380.67,342.44 L380.92,341.73 L381.17,340.90 L381.42,340.00 L381.67,339.08 L381.92,338.20 L382.17,337.38 L382.42,336.69 L382.67,336.15 L382.92,335.78 L383.00,335.70 L383.17,335.89 L383.42,336.32 L383.67,336.92 L383.92,337.66 L384.17,338.51 L384.42,339.41 L384.67,340.33 L384.92,341.21 L385.17,342.00 L385.42,342.66 L385.67,343.16 L385.92,343.46 L386.17,343.50 L386.42,343.32 L386.67,342.51 L386.92,341.24 L387.17,339.59 L387.42,337.65 L387.67,335.51 L387.92,333.30 L388.17,331.13 L388.42,329.13 L388.67,327.39 L388.92,326.00 L389.17,325.03 L389.30,324.70 L389.42,325.00 L389.67,325.96 L389.92,327.33 L390.17,329.05 L390.42,331.05 L390.67,333.21 L390.92,335.42 L391.17,337.56 L391.42,339.52 L391.67,341.18 L391.92,342.47 L392.17,343.30 L392.42,343.13 L392.67,341.48 L392.92,338.89 L393.17,335.52 L393.42,331.55 L393.67,327.18 L393.92,322.66 L394.17,318.24 L394.42,314.15 L394.67,310.60 L394.92,307.76 L395.17,305.78 L395.30,305.10 L395.42,305.72 L395.67,307.67 L395.92,310.47 L396.17,313.99 L396.42,318.07 L396.67,322.48 L396.92,327.00 L397.17,331.38 L397.42,335.37 L397.67,338.77 L397.92,341.39 L398.17,342.84 L398.42,340.98 L398.67,337.21 L398.92,332.17 L399.17,326.12 L399.42,319.40 L399.67,312.36 L399.92,305.38 L400.17,298.86 L400.42,293.11 L400.67,288.45 L400.92,285.07 L401.10,283.50 L401.17,284.02 L401.42,286.79 L401.67,290.91 L401.92,296.21 L402.17,302.43 L402.42,309.26 L402.67,316.31 L402.92,323.23 L403.17,329.61 L403.42,335.14 L403.67,339.49 L403.92,342.44 L404.17,341.17 L404.42,336.97 L404.67,331.19 L404.92,324.12 L405.17,316.16 L405.42,307.73 L405.67,299.28 L405.92,291.28 L406.17,284.16 L406.42,278.26 L406.67,273.87 L406.90,271.30 L406.92,271.47 L407.17,274.46 L407.42,279.11 L407.67,285.22 L407.92,292.52 L408.17,300.61 L408.42,309.09 L408.67,317.48 L408.92,325.33 L409.17,332.21 L409.42,337.76 L409.67,341.67 L409.92,342.84 L410.17,339.86 L410.42,335.20 L410.67,329.14 L410.92,321.99 L411.17,314.13 L411.42,306.00 L411.67,298.04 L411.92,290.68 L412.17,284.29 L412.42,279.20 L412.67,275.62 L412.80,274.40 L412.92,275.51 L413.17,279.02 L413.42,284.06 L413.67,290.40 L413.92,297.74 L414.17,305.68 L414.42,313.81 L414.67,321.68 L414.92,328.87 L415.17,334.99 L415.42,339.70 L415.67,342.76 L415.92,342.96 L416.17,340.52 L416.42,336.72 L416.67,331.76 L416.92,325.91 L417.17,319.49 L417.42,312.84 L417.67,306.33 L417.92,300.31 L418.17,295.09 L418.42,290.92 L418.67,288.00 L418.80,287.00 L418.92,287.91 L419.17,290.78 L419.42,294.90 L419.67,300.08 L419.92,306.08 L420.17,312.58 L420.42,319.22 L420.67,325.66 L420.92,331.54 L421.17,336.54 L421.42,340.40 L421.67,342.89 L421.92,342.84 L422.17,341.35 L422.42,339.23 L422.67,336.59 L422.92,333.57 L423.17,330.33 L423.42,327.06 L423.67,323.92 L423.92,321.09 L424.17,318.70 L424.42,316.88 L424.67,315.70 L424.70,315.60 L424.92,316.54 L425.17,318.21 L425.42,320.47 L425.67,323.21 L425.92,326.28 L426.17,329.54 L426.42,332.81 L426.67,335.90 L426.92,338.64 L427.17,340.90 L427.42,342.55 L427.67,343.48 L427.92,343.36 L428.17,343.04 L428.42,342.58 L428.67,342.01 L428.92,341.36 L429.17,340.67 L429.42,339.96 L429.67,339.29 L429.92,338.68 L430.17,338.17 L430.42,337.78 L430.67,337.52 L430.70,337.50 L430.92,337.70 L431.17,338.06 L431.42,338.55 L431.67,339.14 L431.92,339.80 L432.17,340.50 L432.42,341.20 L432.67,341.86 L432.92,342.45 L433.17,342.89 L433.42,343.15 L433.67,343.22 L433.92,343.07 L434.17,342.89 L434.42,342.71 L434.67,342.52 L434.92,342.34 L435.17,342.18 L435.42,342.05 L435.67,341.96 L435.90,341.90 L435.92,341.90 L436.17,341.97 L436.42,342.07 L436.67,342.21 L436.92,342.37 L437.17,342.55 L437.42,342.74 L437.67,342.92 L437.92,343.10 L438.17,343.25 L438.42,343.37 L438.67,343.46 L438.88,343.50 L438.88,343.50" stroke="#1fa25b" stroke-width="1.4" fill="none" stroke-linejoin="round"/>
<rect x="9" y="366.8" width="661" height="16.399999999999977" fill="#e1e2e2"/>
<text x="12" y="379" font-size="12" fill="#2b2728" font-weight="normal" text-anchor="start" textLength="26" lengthAdjust="spacingAndGlyphs" stroke="#2b2728" stroke-width="0.35">TMR</text>
<text x="281.7" y="379" font-size="12" fill="#2b2728" font-weight="normal" text-anchor="start" textLength="35" lengthAdjust="spacingAndGlyphs" stroke="#2b2728" stroke-width="0.35">NR-24</text>
<text x="487.4" y="379" font-size="12" fill="#2b2728" font-weight="normal" text-anchor="start" textLength="46.2" lengthAdjust="spacingAndGlyphs" stroke="#2b2728" stroke-width="0.35">Penta-C</text>
<rect x="282.6" y="407.7" width="34.0" height="107.59999999999995" fill="#e6e6e7"/>
<text x="16.6" y="400.90000000000003" font-size="9.4" fill="#2b2728" font-weight="normal" text-anchor="middle" stroke="#2b2728" stroke-width="0.4">80</text>
<text x="125.4" y="400.90000000000003" font-size="9.4" fill="#2b2728" font-weight="normal" text-anchor="middle" stroke="#2b2728" stroke-width="0.4">100</text>
<text x="234.2" y="400.90000000000003" font-size="9.4" fill="#2b2728" font-weight="normal" text-anchor="middle" stroke="#2b2728" stroke-width="0.4">120</text>
<text x="342.9" y="400.90000000000003" font-size="9.4" fill="#2b2728" font-weight="normal" text-anchor="middle" stroke="#2b2728" stroke-width="0.4">140</text>
<text x="451.7" y="400.90000000000003" font-size="9.4" fill="#2b2728" font-weight="normal" text-anchor="middle" stroke="#2b2728" stroke-width="0.4">160</text>
<text x="560.5" y="400.90000000000003" font-size="9.4" fill="#2b2728" font-weight="normal" text-anchor="middle" stroke="#2b2728" stroke-width="0.4">180</text>
<text x="669.3" y="400.90000000000003" font-size="9.4" fill="#2b2728" font-weight="normal" text-anchor="middle" stroke="#2b2728" stroke-width="0.4">200</text>
<path d="M16.6,406.5 H669.3 M16.60,402.0 V410.1 M70.99,402.0 V410.1 M125.38,402.0 V410.1 M179.77,402.0 V410.1 M234.16,402.0 V410.1 M288.55,402.0 V410.1 M342.94,402.0 V410.1 M397.33,402.0 V410.1 M451.72,402.0 V410.1 M506.11,402.0 V410.1 M560.50,402.0 V410.1 M614.89,402.0 V410.1 M669.28,402.0 V410.1 M16.6,402.2 V516.5 M13.400000000000002,412.8 H20.200000000000003 M13.400000000000002,424.6 H20.200000000000003 M13.400000000000002,438 H20.200000000000003 M13.400000000000002,451 H20.200000000000003 M13.400000000000002,464.5 H20.200000000000003 M13.400000000000002,476.9 H20.200000000000003 M13.400000000000002,489.4 H20.200000000000003 M13.400000000000002,503.2 H20.200000000000003 M669.3,402.2 V516.5 M13.600000000000001,515.9 H669.3 " stroke="#3d3838" stroke-width="1.5" fill="none"/>
<path d="M510.1,383.5 V391.1 M472.7,401.9 V391.1 H547.9 V401.9" stroke="#3d3838" stroke-width="1.2" fill="none"/>
<path d="M258.64,515.00 L258.64,515.00 L258.64,515.00 L258.89,514.89 L259.14,514.77 L259.39,514.62 L259.64,514.47 L259.89,514.31 L260.14,514.14 L260.39,513.97 L260.64,513.80 L260.89,513.63 L261.14,513.47 L261.39,513.31 L261.64,513.15 L261.89,513.01 L261.90,513.00 L262.14,513.14 L262.39,513.29 L262.64,513.46 L262.89,513.62 L263.14,513.79 L263.39,513.96 L263.64,514.13 L263.89,514.30 L264.14,514.46 L264.39,514.48 L264.64,514.36 L264.89,514.20 L265.14,513.99 L265.39,513.66 L265.64,513.30 L265.89,512.94 L266.14,512.57 L266.39,512.21 L266.64,511.85 L266.89,511.50 L267.14,511.16 L267.39,510.84 L267.50,510.70 L267.64,510.88 L267.89,511.20 L268.14,511.54 L268.39,511.89 L268.64,512.25 L268.89,512.62 L269.14,512.98 L269.39,513.35 L269.64,513.70 L269.89,514.04 L270.14,514.35 L270.39,514.52 L270.64,514.05 L270.89,513.30 L271.14,512.36 L271.39,511.35 L271.64,510.30 L271.89,509.22 L272.14,508.11 L272.39,507.00 L272.64,505.91 L272.89,504.83 L273.14,503.79 L273.39,502.80 L273.60,502.00 L273.64,502.15 L273.89,503.11 L274.14,504.12 L274.39,505.17 L274.64,506.25 L274.89,507.36 L275.14,508.46 L275.39,509.57 L275.64,510.64 L275.89,511.68 L276.14,512.67 L276.39,513.58 L276.64,514.38 L276.89,512.42 L277.14,509.32 L277.39,505.88 L277.64,502.19 L277.89,498.30 L278.14,494.28 L278.39,490.17 L278.64,486.05 L278.89,481.95 L279.14,477.94 L279.39,474.04 L279.64,470.30 L279.89,466.74 L279.90,466.60 L280.14,470.01 L280.39,473.74 L280.64,477.62 L280.89,481.63 L281.14,485.72 L281.39,489.84 L281.64,493.95 L281.89,497.99 L282.14,501.89 L282.39,504.79 L282.64,503.36 L282.89,500.78 L283.14,497.14 L283.39,490.61 L283.64,483.56 L283.89,476.29 L284.14,468.89 L284.39,461.47 L284.64,454.14 L284.89,446.96 L285.14,440.01 L285.39,433.35 L285.60,428.00 L285.64,429.00 L285.89,435.45 L286.14,442.21 L286.39,449.23 L286.64,456.47 L286.89,463.84 L287.14,471.26 L287.39,478.63 L287.64,485.84 L287.89,492.80 L288.14,497.58 L288.39,498.25 L288.64,497.52 L288.89,494.74 L289.14,487.50 L289.39,479.93 L289.64,472.13 L289.89,464.23 L290.14,456.33 L290.39,448.53 L290.64,440.92 L290.89,433.57 L291.14,426.53 L291.30,422.20 L291.39,424.62 L291.64,431.56 L291.89,438.83 L292.14,446.38 L292.39,454.13 L292.64,462.02 L292.89,469.93 L293.14,477.76 L293.39,485.41 L293.64,492.76 L293.89,499.69 L294.14,504.07 L294.39,503.66 L294.64,499.90 L294.89,492.28 L295.14,484.15 L295.39,475.66 L295.64,466.91 L295.89,458.05 L296.14,449.19 L296.39,440.44 L296.64,431.90 L296.89,423.65 L297.14,415.75 L297.30,410.90 L297.39,413.61 L297.64,421.40 L297.89,429.55 L298.14,438.02 L298.39,446.72 L298.64,455.56 L298.89,464.44 L299.14,473.23 L299.39,481.81 L299.64,490.05 L299.89,497.82 L300.14,504.96 L300.39,505.89 L300.64,502.90 L300.89,495.58 L301.14,487.72 L301.39,479.44 L301.64,470.86 L301.89,462.12 L302.14,453.32 L302.39,444.60 L302.64,436.05 L302.89,427.76 L303.14,419.79 L303.39,412.20 L303.40,411.90 L303.64,419.17 L303.89,427.11 L304.14,435.37 L304.39,443.91 L304.64,452.62 L304.89,461.41 L305.14,470.17 L305.39,478.76 L305.64,487.07 L305.89,494.97 L306.14,502.34 L306.39,508.76 L306.64,512.88 L306.89,511.53 L307.14,509.61 L307.39,507.57 L307.64,505.42 L307.89,503.21 L308.14,500.95 L308.39,498.70 L308.64,496.46 L308.89,494.27 L309.14,492.16 L309.39,490.13 L309.60,488.50 L309.64,488.80 L309.89,490.77 L310.14,492.83 L310.39,494.97 L310.64,497.17 L310.89,499.42 L311.14,501.68 L311.39,503.92 L311.64,506.12 L311.89,508.24 L312.14,510.19 L312.39,511.88 L312.64,513.35 L312.89,514.37 L313.14,514.14 L313.39,513.90 L313.64,513.66 L313.89,513.41 L314.14,513.17 L314.39,512.92 L314.64,512.68 L314.89,512.46 L315.14,512.24 L315.30,512.10 L315.39,512.18 L315.64,512.39 L315.89,512.62 L316.14,512.86 L316.39,513.10 L316.64,513.34 L316.89,513.59 L317.14,513.84 L317.39,514.08 L317.64,514.30 L317.89,514.52 L318.14,514.72 L318.39,514.90 L318.56,515.00 L318.56,515.00 Z" fill="#231f20" fill-opacity="0.15" stroke="none"/>
<path d="M260.52,515.00 L261.90,513.00 L267.50,510.70 L273.60,502.00 L279.90,466.60 L285.60,428.00 L291.30,422.20 L297.30,410.90 L303.40,411.90 L309.60,488.50 L315.30,512.10 L316.68,515.00 Z" fill="#231f20" fill-opacity="0.05" stroke="none"/>
<path d="M16.60,515.0 H259.64 M317.56,515.0 H472.30 M490.30,515.0 H529.50 M547.50,515.0 H669.3" stroke="#231f20" stroke-width="1.45" fill="none"/>
<path d="M471.30,515.00 L471.30,515.00 L471.30,514.82 L471.55,514.79 L471.80,514.76 L472.05,514.72 L472.30,514.68 L472.55,514.63 L472.80,514.58 L473.05,514.52 L473.30,514.46 L473.55,514.39 L473.80,514.31 L474.05,514.23 L474.30,514.13 L474.55,514.04 L474.80,513.93 L475.05,513.82 L475.30,513.70 L475.55,513.58 L475.70,513.50 L475.80,513.45 L476.05,513.31 L476.30,513.17 L476.55,513.02 L476.80,512.88 L477.05,512.73 L477.30,512.57 L477.55,507.52 L477.60,506.39 L477.80,501.83 L478.05,496.01 L478.30,490.10 L478.55,484.13 L478.80,478.10 L479.05,472.03 L479.30,465.91 L479.55,459.76 L479.80,453.57 L480.05,447.35 L480.30,441.11 L480.55,434.84 L480.80,428.55 L481.05,422.23 L481.30,415.90 L481.55,422.23 L481.80,428.55 L482.05,434.84 L482.30,441.11 L482.55,447.35 L482.80,453.57 L483.05,459.76 L483.30,465.91 L483.55,472.03 L483.80,478.10 L483.90,480.52 L484.05,484.13 L484.30,490.10 L484.55,496.01 L484.80,501.83 L485.05,507.52 L485.30,512.57 L485.55,512.73 L485.80,512.88 L486.05,513.02 L486.30,513.17 L486.55,513.31 L486.80,513.45 L487.05,513.58 L487.30,513.70 L487.55,513.82 L487.80,513.93 L488.05,514.04 L488.30,514.13 L488.55,514.23 L488.80,514.31 L489.05,514.39 L489.30,514.46 L489.55,514.52 L489.80,514.58 L490.05,514.63 L490.30,514.68 L490.55,514.72 L490.80,514.76 L491.05,514.79 L491.30,514.82 L491.30,515.00 L491.30,515.00" stroke="#231f20" stroke-width="1.15" fill="none" stroke-linejoin="round"/>
<path d="M528.50,515.00 L528.50,515.00 L528.50,514.82 L528.75,514.79 L529.00,514.76 L529.25,514.72 L529.50,514.68 L529.75,514.63 L530.00,514.58 L530.25,514.52 L530.50,514.46 L530.75,514.39 L531.00,514.31 L531.25,514.23 L531.50,514.13 L531.75,514.04 L532.00,513.93 L532.25,513.82 L532.50,513.70 L532.75,513.58 L532.90,513.50 L533.00,513.45 L533.25,513.31 L533.50,513.17 L533.75,513.02 L534.00,512.88 L534.25,512.73 L534.50,512.57 L534.75,507.83 L534.80,506.75 L535.00,502.37 L535.25,496.80 L535.50,491.13 L535.75,485.41 L536.00,479.63 L536.25,473.81 L536.50,467.94 L536.75,462.04 L537.00,456.11 L537.25,450.15 L537.50,444.17 L537.75,438.16 L538.00,432.13 L538.25,426.07 L538.50,420.00 L538.75,426.07 L539.00,432.13 L539.25,438.16 L539.50,444.17 L539.75,450.15 L540.00,456.11 L540.25,462.04 L540.50,467.94 L540.75,473.81 L541.00,479.63 L541.10,481.95 L541.25,485.41 L541.50,491.13 L541.75,496.80 L542.00,502.37 L542.25,507.83 L542.50,512.57 L542.75,512.73 L543.00,512.88 L543.25,513.02 L543.50,513.17 L543.75,513.31 L544.00,513.45 L544.25,513.58 L544.50,513.70 L544.75,513.82 L545.00,513.93 L545.25,514.04 L545.50,514.13 L545.75,514.23 L546.00,514.31 L546.25,514.39 L546.50,514.46 L546.75,514.52 L547.00,514.58 L547.25,514.63 L547.50,514.68 L547.75,514.72 L548.00,514.76 L548.25,514.79 L548.50,514.82 L548.50,515.00 L548.50,515.00" stroke="#231f20" stroke-width="1.15" fill="none" stroke-linejoin="round"/>
<path d="M507.50,515.00 L507.50,515.00 L507.50,515.00 L507.75,514.51 L508.00,514.04 L508.25,513.61 L508.50,513.23 L508.75,512.92 L509.00,512.69 L509.25,512.55 L509.50,512.50 L509.75,512.55 L510.00,512.69 L510.25,512.92 L510.50,513.23 L510.75,513.61 L511.00,514.04 L511.25,514.51 L511.50,515.00 L511.50,515.00 L511.50,515.00" stroke="#231f20" stroke-width="1.15" fill="none" stroke-linejoin="round"/>
<path d="M258.64,515.00 L258.64,515.00 L258.64,515.00 L258.89,514.89 L259.14,514.77 L259.39,514.62 L259.64,514.47 L259.89,514.31 L260.14,514.14 L260.39,513.97 L260.64,513.80 L260.89,513.63 L261.14,513.47 L261.39,513.31 L261.64,513.15 L261.89,513.01 L261.90,513.00 L262.14,513.14 L262.39,513.29 L262.64,513.46 L262.89,513.62 L263.14,513.79 L263.39,513.96 L263.64,514.13 L263.89,514.30 L264.14,514.46 L264.39,514.48 L264.64,514.36 L264.89,514.20 L265.14,513.99 L265.39,513.66 L265.64,513.30 L265.89,512.94 L266.14,512.57 L266.39,512.21 L266.64,511.85 L266.89,511.50 L267.14,511.16 L267.39,510.84 L267.50,510.70 L267.64,510.88 L267.89,511.20 L268.14,511.54 L268.39,511.89 L268.64,512.25 L268.89,512.62 L269.14,512.98 L269.39,513.35 L269.64,513.70 L269.89,514.04 L270.14,514.35 L270.39,514.52 L270.64,514.05 L270.89,513.30 L271.14,512.36 L271.39,511.35 L271.64,510.30 L271.89,509.22 L272.14,508.11 L272.39,507.00 L272.64,505.91 L272.89,504.83 L273.14,503.79 L273.39,502.80 L273.60,502.00 L273.64,502.15 L273.89,503.11 L274.14,504.12 L274.39,505.17 L274.64,506.25 L274.89,507.36 L275.14,508.46 L275.39,509.57 L275.64,510.64 L275.89,511.68 L276.14,512.67 L276.39,513.58 L276.64,514.38 L276.89,512.42 L277.14,509.32 L277.39,505.88 L277.64,502.19 L277.89,498.30 L278.14,494.28 L278.39,490.17 L278.64,486.05 L278.89,481.95 L279.14,477.94 L279.39,474.04 L279.64,470.30 L279.89,466.74 L279.90,466.60 L280.14,470.01 L280.39,473.74 L280.64,477.62 L280.89,481.63 L281.14,485.72 L281.39,489.84 L281.64,493.95 L281.89,497.99 L282.14,501.89 L282.39,504.79 L282.64,503.36 L282.89,500.78 L283.14,497.14 L283.39,490.61 L283.64,483.56 L283.89,476.29 L284.14,468.89 L284.39,461.47 L284.64,454.14 L284.89,446.96 L285.14,440.01 L285.39,433.35 L285.60,428.00 L285.64,429.00 L285.89,435.45 L286.14,442.21 L286.39,449.23 L286.64,456.47 L286.89,463.84 L287.14,471.26 L287.39,478.63 L287.64,485.84 L287.89,492.80 L288.14,497.58 L288.39,498.25 L288.64,497.52 L288.89,494.74 L289.14,487.50 L289.39,479.93 L289.64,472.13 L289.89,464.23 L290.14,456.33 L290.39,448.53 L290.64,440.92 L290.89,433.57 L291.14,426.53 L291.30,422.20 L291.39,424.62 L291.64,431.56 L291.89,438.83 L292.14,446.38 L292.39,454.13 L292.64,462.02 L292.89,469.93 L293.14,477.76 L293.39,485.41 L293.64,492.76 L293.89,499.69 L294.14,504.07 L294.39,503.66 L294.64,499.90 L294.89,492.28 L295.14,484.15 L295.39,475.66 L295.64,466.91 L295.89,458.05 L296.14,449.19 L296.39,440.44 L296.64,431.90 L296.89,423.65 L297.14,415.75 L297.30,410.90 L297.39,413.61 L297.64,421.40 L297.89,429.55 L298.14,438.02 L298.39,446.72 L298.64,455.56 L298.89,464.44 L299.14,473.23 L299.39,481.81 L299.64,490.05 L299.89,497.82 L300.14,504.96 L300.39,505.89 L300.64,502.90 L300.89,495.58 L301.14,487.72 L301.39,479.44 L301.64,470.86 L301.89,462.12 L302.14,453.32 L302.39,444.60 L302.64,436.05 L302.89,427.76 L303.14,419.79 L303.39,412.20 L303.40,411.90 L303.64,419.17 L303.89,427.11 L304.14,435.37 L304.39,443.91 L304.64,452.62 L304.89,461.41 L305.14,470.17 L305.39,478.76 L305.64,487.07 L305.89,494.97 L306.14,502.34 L306.39,508.76 L306.64,512.88 L306.89,511.53 L307.14,509.61 L307.39,507.57 L307.64,505.42 L307.89,503.21 L308.14,500.95 L308.39,498.70 L308.64,496.46 L308.89,494.27 L309.14,492.16 L309.39,490.13 L309.60,488.50 L309.64,488.80 L309.89,490.77 L310.14,492.83 L310.39,494.97 L310.64,497.17 L310.89,499.42 L311.14,501.68 L311.39,503.92 L311.64,506.12 L311.89,508.24 L312.14,510.19 L312.39,511.88 L312.64,513.35 L312.89,514.37 L313.14,514.14 L313.39,513.90 L313.64,513.66 L313.89,513.41 L314.14,513.17 L314.39,512.92 L314.64,512.68 L314.89,512.46 L315.14,512.24 L315.30,512.10 L315.39,512.18 L315.64,512.39 L315.89,512.62 L316.14,512.86 L316.39,513.10 L316.64,513.34 L316.89,513.59 L317.14,513.84 L317.39,514.08 L317.64,514.30 L317.89,514.52 L318.14,514.72 L318.39,514.90 L318.56,515.00 L318.56,515.00" stroke="#231f20" stroke-width="1.25" fill="none" stroke-linejoin="round"/>
<defs><linearGradient id="tg" x1="0" y1="0" x2="1" y2="0"><stop offset="0" stop-color="#0ea6b9"/><stop offset="0.6" stop-color="#1baba6"/><stop offset="1" stop-color="#4cba78"/></linearGradient></defs>
<path d="M170.3,90.9 H176.6 V113 H179.9 L173.45,118.9 L167,113 H170.3 Z" fill="url(#tg)"/>
<path d="M380.95,269.1 H387.5 V290.8 H391 L384.65,297.6 L378.3,290.8 H380.95 Z" fill="#f5bd02"/>
<path d="M267.8,437.9 H274.2 V459.8 H277.5 L271.35,465.9 L265.2,459.8 H267.8 Z" fill="url(#tg)"/>
<rect x="13.8" y="567.5" width="658.9000000000001" height="16.0" fill="#d6d6ed"/>
<text x="17" y="581" font-size="12" fill="#3252a3" font-weight="bold" text-anchor="start" textLength="12.6" lengthAdjust="spacingAndGlyphs" stroke="#3252a3" stroke-width="0.3">FL</text>
<text x="185.6" y="581" font-size="12" fill="#2b2728" font-weight="normal" text-anchor="start" textLength="43.6" lengthAdjust="spacingAndGlyphs" stroke="#2b2728" stroke-width="0.35">BAT-26</text>
<text x="517.4" y="581" font-size="12" fill="#2b2728" font-weight="normal" text-anchor="start" textLength="46.2" lengthAdjust="spacingAndGlyphs" stroke="#2b2728" stroke-width="0.35">Penta-D</text>
<rect x="189.4" y="608.9000000000001" width="33.599999999999994" height="100.09999999999995" fill="#e6e6e7"/>
<text x="21.4" y="601.0999999999999" font-size="9.4" fill="#2b2728" font-weight="normal" text-anchor="middle" stroke="#2b2728" stroke-width="0.4">80</text>
<text x="129.8" y="601.0999999999999" font-size="9.4" fill="#2b2728" font-weight="normal" text-anchor="middle" stroke="#2b2728" stroke-width="0.4">100</text>
<text x="238.3" y="601.0999999999999" font-size="9.4" fill="#2b2728" font-weight="normal" text-anchor="middle" stroke="#2b2728" stroke-width="0.4">120</text>
<text x="346.7" y="601.0999999999999" font-size="9.4" fill="#2b2728" font-weight="normal" text-anchor="middle" stroke="#2b2728" stroke-width="0.4">140</text>
<text x="455.2" y="601.0999999999999" font-size="9.4" fill="#2b2728" font-weight="normal" text-anchor="middle" stroke="#2b2728" stroke-width="0.4">160</text>
<text x="563.6" y="601.0999999999999" font-size="9.4" fill="#2b2728" font-weight="normal" text-anchor="middle" stroke="#2b2728" stroke-width="0.4">180</text>
<text x="672.0" y="601.0999999999999" font-size="9.4" fill="#2b2728" font-weight="normal" text-anchor="middle" stroke="#2b2728" stroke-width="0.4">200</text>
<path d="M21.4,607.7 H672 M21.40,603.2 V611.3000000000001 M75.62,603.2 V611.3000000000001 M129.84,603.2 V611.3000000000001 M184.06,603.2 V611.3000000000001 M238.28,603.2 V611.3000000000001 M292.50,603.2 V611.3000000000001 M346.72,603.2 V611.3000000000001 M400.94,603.2 V611.3000000000001 M455.16,603.2 V611.3000000000001 M509.38,603.2 V611.3000000000001 M563.60,603.2 V611.3000000000001 M617.82,603.2 V611.3000000000001 M672.04,603.2 V611.3000000000001 M21.4,603.4000000000001 V710.2 M18.2,615.5 H25.0 M18.2,626.0 H25.0 M18.2,636.5 H25.0 M18.2,647.0 H25.0 M18.2,657.5 H25.0 M18.2,668.0 H25.0 M18.2,678.5 H25.0 M18.2,689.0 H25.0 M18.2,699.5 H25.0 M672,603.4000000000001 V710.2 M18.4,709.6 H672 " stroke="#3d3838" stroke-width="1.5" fill="none"/>
<path d="M540.5,584.1 V591.1 M503.1,602.5 V591.1 H578.7 V602.5" stroke="#3d3838" stroke-width="1.2" fill="none"/>
<path d="M183.09,708.70 L183.09,708.70 L183.09,708.70 L183.34,708.51 L183.59,708.25 L183.84,707.93 L184.09,707.56 L184.34,707.15 L184.59,706.73 L184.84,706.29 L185.09,705.86 L185.34,705.44 L185.59,705.06 L185.84,704.71 L186.09,704.41 L186.30,704.20 L186.34,704.24 L186.59,704.50 L186.84,704.82 L187.09,705.18 L187.34,705.57 L187.59,706.00 L187.84,706.43 L188.09,706.86 L188.34,707.29 L188.59,707.42 L188.84,706.83 L189.09,705.92 L189.34,704.72 L189.59,703.21 L189.84,701.46 L190.09,699.63 L190.34,697.79 L190.59,695.99 L190.84,694.28 L191.09,692.72 L191.34,691.33 L191.59,690.15 L191.70,689.70 L191.84,690.28 L192.09,691.49 L192.34,692.90 L192.59,694.48 L192.84,696.20 L193.09,698.01 L193.34,699.85 L193.59,701.67 L193.84,703.15 L194.09,702.75 L194.34,701.50 L194.59,699.49 L194.84,696.76 L195.09,692.97 L195.34,688.83 L195.59,684.62 L195.84,680.48 L196.09,676.53 L196.34,672.88 L196.59,669.63 L196.84,666.83 L197.00,665.30 L197.09,666.14 L197.34,668.80 L197.59,671.93 L197.84,675.47 L198.09,679.35 L198.34,683.45 L198.59,687.65 L198.84,691.82 L199.09,695.84 L199.34,699.58 L199.59,700.42 L199.84,698.81 L200.09,695.52 L200.34,689.90 L200.59,682.87 L200.84,675.40 L201.09,667.72 L201.34,660.07 L201.59,652.68 L201.84,645.76 L202.09,639.51 L202.34,634.04 L202.59,629.46 L202.60,629.30 L202.84,633.64 L203.09,639.04 L203.34,645.24 L203.59,652.10 L203.84,659.46 L204.09,667.10 L204.34,674.79 L204.59,682.29 L204.84,689.36 L205.09,695.78 L205.34,697.28 L205.59,696.04 L205.84,691.82 L206.09,683.77 L206.34,674.94 L206.59,665.63 L206.84,656.11 L207.09,646.69 L207.34,637.65 L207.59,629.24 L207.84,621.69 L208.09,615.14 L208.30,610.50 L208.34,611.32 L208.59,617.12 L208.84,624.00 L209.09,631.85 L209.34,640.48 L209.59,649.68 L209.84,659.16 L210.09,668.65 L210.34,677.84 L210.59,686.44 L210.84,694.19 L211.09,698.82 L211.34,700.53 L211.59,698.61 L211.84,693.45 L212.09,687.75 L212.34,681.69 L212.59,675.46 L212.84,669.25 L213.09,663.26 L213.34,657.65 L213.59,652.58 L213.84,648.15 L214.09,644.43 L214.10,644.30 L214.34,647.82 L214.59,652.20 L214.84,657.23 L215.09,662.80 L215.34,668.76 L215.59,674.96 L215.84,681.20 L216.09,687.28 L216.34,693.01 L216.59,697.61 L216.84,701.04 L217.09,703.38 L217.34,704.11 L217.59,702.39 L217.84,700.56 L218.09,698.69 L218.34,696.82 L218.59,695.01 L218.84,693.32 L219.09,691.79 L219.34,690.46 L219.59,689.34 L219.60,689.30 L219.84,690.36 L220.09,691.68 L220.34,693.19 L220.59,694.87 L220.84,696.67 L221.09,698.54 L221.34,700.42 L221.59,702.25 L221.84,703.96 L222.09,705.45 L222.34,706.70 L222.59,707.67 L222.84,708.21 L223.09,708.05 L223.34,707.88 L223.59,707.70 L223.84,707.53 L224.09,707.37 L224.34,707.21 L224.59,707.08 L224.84,706.96 L225.00,706.90 L225.09,706.93 L225.34,707.05 L225.59,707.17 L225.84,707.32 L226.09,707.48 L226.34,707.65 L226.59,707.83 L226.84,708.00 L227.09,708.17 L227.34,708.32 L227.59,708.46 L227.84,708.58 L228.09,708.67 L228.21,708.70 L228.21,708.70 Z" fill="#2f4f9e" fill-opacity="0.24" stroke="none"/>
<path d="M184.85,708.70 L186.30,704.20 L191.70,689.70 L197.00,665.30 L202.60,629.30 L208.30,610.50 L214.10,644.30 L219.60,689.30 L225.00,706.90 L226.45,708.70 Z" fill="#2f4f9e" fill-opacity="0.15" stroke="none"/>
<path d="M21.40,708.7 H184.09 M227.21,708.7 H494.10 M512.10,708.7 H572.40 M590.40,708.7 H672" stroke="#2f4f9e" stroke-width="1.45" fill="none"/>
<path d="M493.10,708.70 L493.10,708.70 L493.10,708.70 L493.35,708.70 L493.60,708.70 L493.85,708.70 L494.10,708.70 L494.35,708.70 L494.60,708.70 L494.85,708.70 L495.10,708.70 L495.35,708.70 L495.60,708.70 L495.85,707.32 L496.10,705.94 L496.35,704.56 L496.60,703.17 L496.85,701.79 L497.10,700.41 L497.35,699.03 L497.50,698.20 L497.60,698.75 L497.85,700.13 L498.10,701.52 L498.35,702.90 L498.60,704.20 L498.85,704.20 L499.10,704.20 L499.35,702.36 L499.40,701.41 L499.60,697.53 L499.85,692.60 L500.10,687.60 L500.35,682.54 L500.60,677.43 L500.85,672.28 L501.10,667.09 L501.35,661.88 L501.60,656.63 L501.85,651.36 L502.10,646.07 L502.35,640.76 L502.60,635.42 L502.85,630.07 L503.10,624.70 L503.35,630.07 L503.60,635.42 L503.85,640.76 L504.10,646.07 L504.35,651.36 L504.60,656.63 L504.85,661.88 L505.10,667.09 L505.35,672.28 L505.60,677.43 L505.70,679.48 L505.85,682.54 L506.10,687.60 L506.35,692.60 L506.60,697.53 L506.85,702.36 L507.10,705.35 L507.35,705.68 L507.60,705.98 L507.85,706.25 L508.10,706.49 L508.35,706.71 L508.60,706.91 L508.85,707.09 L509.10,707.24 L509.35,707.39 L509.60,707.52 L509.85,707.64 L510.10,707.74 L510.35,707.84 L510.60,707.92 L510.85,708.00 L511.10,708.07 L511.35,708.13 L511.60,708.19 L511.85,708.24 L512.10,708.28 L512.35,708.32 L512.60,708.36 L512.85,708.39 L513.10,708.43 L513.10,708.70 L513.10,708.70" stroke="#2f4f9e" stroke-width="1.25" fill="none" stroke-linejoin="round"/>
<path d="M571.40,708.70 L571.40,708.70 L571.40,708.70 L571.65,708.70 L571.90,708.70 L572.15,708.70 L572.40,708.70 L572.65,708.70 L572.90,708.70 L573.15,708.70 L573.40,708.70 L573.65,708.70 L573.90,708.70 L574.15,707.32 L574.40,705.94 L574.65,704.56 L574.90,703.17 L575.15,701.79 L575.40,700.41 L575.65,699.03 L575.80,698.20 L575.90,698.75 L576.15,700.13 L576.40,701.52 L576.65,702.90 L576.90,704.20 L577.15,704.20 L577.40,704.20 L577.65,702.77 L577.70,701.88 L577.90,698.26 L578.15,693.66 L578.40,688.98 L578.65,684.25 L578.90,679.47 L579.15,674.66 L579.40,669.82 L579.65,664.94 L579.90,660.04 L580.15,655.12 L580.40,650.17 L580.65,645.20 L580.90,640.22 L581.15,635.22 L581.40,630.20 L581.65,635.22 L581.90,640.22 L582.15,645.20 L582.40,650.17 L582.65,655.12 L582.90,660.04 L583.15,664.94 L583.40,669.82 L583.65,674.66 L583.90,679.47 L584.00,681.39 L584.15,684.25 L584.40,688.98 L584.65,693.66 L584.90,698.26 L585.15,702.77 L585.40,705.35 L585.65,705.68 L585.90,705.98 L586.15,706.25 L586.40,706.49 L586.65,706.71 L586.90,706.91 L587.15,707.09 L587.40,707.24 L587.65,707.39 L587.90,707.52 L588.15,707.64 L588.40,707.74 L588.65,707.84 L588.90,707.92 L589.15,708.00 L589.40,708.07 L589.65,708.13 L589.90,708.19 L590.15,708.24 L590.40,708.28 L590.65,708.32 L590.90,708.36 L591.15,708.39 L591.40,708.43 L591.40,708.70 L591.40,708.70" stroke="#2f4f9e" stroke-width="1.25" fill="none" stroke-linejoin="round"/>
<path d="M528.50,708.70 L528.50,708.70 L528.50,708.70 L528.75,708.24 L529.00,707.82 L529.25,707.49 L529.50,707.27 L529.75,707.20 L530.00,707.27 L530.25,707.49 L530.50,707.82 L530.75,708.24 L531.00,708.70 L531.00,708.70 L531.00,708.70" stroke="#2f4f9e" stroke-width="1.25" fill="none" stroke-linejoin="round"/>
<path d="M553.50,708.70 L553.50,708.70 L553.50,708.70 L553.75,708.03 L554.00,707.40 L554.25,706.83 L554.50,706.35 L554.75,706.00 L555.00,705.78 L555.25,705.70 L555.50,705.78 L555.75,706.00 L556.00,706.35 L556.25,706.83 L556.50,707.40 L556.75,708.03 L557.00,708.70 L557.00,708.70 L557.00,708.70" stroke="#2f4f9e" stroke-width="1.25" fill="none" stroke-linejoin="round"/>
<path d="M183.09,708.70 L183.09,708.70 L183.09,708.70 L183.34,708.51 L183.59,708.25 L183.84,707.93 L184.09,707.56 L184.34,707.15 L184.59,706.73 L184.84,706.29 L185.09,705.86 L185.34,705.44 L185.59,705.06 L185.84,704.71 L186.09,704.41 L186.30,704.20 L186.34,704.24 L186.59,704.50 L186.84,704.82 L187.09,705.18 L187.34,705.57 L187.59,706.00 L187.84,706.43 L188.09,706.86 L188.34,707.29 L188.59,707.42 L188.84,706.83 L189.09,705.92 L189.34,704.72 L189.59,703.21 L189.84,701.46 L190.09,699.63 L190.34,697.79 L190.59,695.99 L190.84,694.28 L191.09,692.72 L191.34,691.33 L191.59,690.15 L191.70,689.70 L191.84,690.28 L192.09,691.49 L192.34,692.90 L192.59,694.48 L192.84,696.20 L193.09,698.01 L193.34,699.85 L193.59,701.67 L193.84,703.15 L194.09,702.75 L194.34,701.50 L194.59,699.49 L194.84,696.76 L195.09,692.97 L195.34,688.83 L195.59,684.62 L195.84,680.48 L196.09,676.53 L196.34,672.88 L196.59,669.63 L196.84,666.83 L197.00,665.30 L197.09,666.14 L197.34,668.80 L197.59,671.93 L197.84,675.47 L198.09,679.35 L198.34,683.45 L198.59,687.65 L198.84,691.82 L199.09,695.84 L199.34,699.58 L199.59,700.42 L199.84,698.81 L200.09,695.52 L200.34,689.90 L200.59,682.87 L200.84,675.40 L201.09,667.72 L201.34,660.07 L201.59,652.68 L201.84,645.76 L202.09,639.51 L202.34,634.04 L202.59,629.46 L202.60,629.30 L202.84,633.64 L203.09,639.04 L203.34,645.24 L203.59,652.10 L203.84,659.46 L204.09,667.10 L204.34,674.79 L204.59,682.29 L204.84,689.36 L205.09,695.78 L205.34,697.28 L205.59,696.04 L205.84,691.82 L206.09,683.77 L206.34,674.94 L206.59,665.63 L206.84,656.11 L207.09,646.69 L207.34,637.65 L207.59,629.24 L207.84,621.69 L208.09,615.14 L208.30,610.50 L208.34,611.32 L208.59,617.12 L208.84,624.00 L209.09,631.85 L209.34,640.48 L209.59,649.68 L209.84,659.16 L210.09,668.65 L210.34,677.84 L210.59,686.44 L210.84,694.19 L211.09,698.82 L211.34,700.53 L211.59,698.61 L211.84,693.45 L212.09,687.75 L212.34,681.69 L212.59,675.46 L212.84,669.25 L213.09,663.26 L213.34,657.65 L213.59,652.58 L213.84,648.15 L214.09,644.43 L214.10,644.30 L214.34,647.82 L214.59,652.20 L214.84,657.23 L215.09,662.80 L215.34,668.76 L215.59,674.96 L215.84,681.20 L216.09,687.28 L216.34,693.01 L216.59,697.61 L216.84,701.04 L217.09,703.38 L217.34,704.11 L217.59,702.39 L217.84,700.56 L218.09,698.69 L218.34,696.82 L218.59,695.01 L218.84,693.32 L219.09,691.79 L219.34,690.46 L219.59,689.34 L219.60,689.30 L219.84,690.36 L220.09,691.68 L220.34,693.19 L220.59,694.87 L220.84,696.67 L221.09,698.54 L221.34,700.42 L221.59,702.25 L221.84,703.96 L222.09,705.45 L222.34,706.70 L222.59,707.67 L222.84,708.21 L223.09,708.05 L223.34,707.88 L223.59,707.70 L223.84,707.53 L224.09,707.37 L224.34,707.21 L224.59,707.08 L224.84,706.96 L225.00,706.90 L225.09,706.93 L225.34,707.05 L225.59,707.17 L225.84,707.32 L226.09,707.48 L226.34,707.65 L226.59,707.83 L226.84,708.00 L227.09,708.17 L227.34,708.32 L227.59,708.46 L227.84,708.58 L228.09,708.67 L228.21,708.70 L228.21,708.70" stroke="#2f4f9e" stroke-width="1.6" fill="none" stroke-linejoin="round"/>
<rect x="13.8" y="731.4" width="658.9000000000001" height="17.600000000000023" fill="#d5ebd9"/>
<text x="17" y="744.8" font-size="12" fill="#1f9b57" font-weight="bold" text-anchor="start" textLength="24.5" lengthAdjust="spacingAndGlyphs" stroke="#1f9b57" stroke-width="0.3">JOE</text>
<text x="117.2" y="744.8" font-size="12" fill="#2b2728" font-weight="normal" text-anchor="start" textLength="34.8" lengthAdjust="spacingAndGlyphs" stroke="#2b2728" stroke-width="0.35">NR-21</text>
<text x="239" y="744.8" font-size="12" fill="#2b2728" font-weight="normal" text-anchor="start" textLength="42.5" lengthAdjust="spacingAndGlyphs" stroke="#2b2728" stroke-width="0.35">BAT-25</text>
<text x="385.9" y="744.8" font-size="12" fill="#2b2728" font-weight="normal" text-anchor="start" textLength="61.3" lengthAdjust="spacingAndGlyphs" stroke="#2b2728" stroke-width="0.35">MONO-27</text>
<rect x="119.3" y="773.2" width="32.7" height="100.59999999999995" fill="#e6e6e7"/>
<rect x="244.1" y="773.2" width="32.29999999999998" height="100.59999999999995" fill="#e6e6e7"/>
<rect x="399.9" y="773.2" width="34.0" height="100.59999999999995" fill="#e6e6e7"/>
<text x="21.4" y="766.4" font-size="9.4" fill="#2b2728" font-weight="normal" text-anchor="middle" stroke="#2b2728" stroke-width="0.4">80</text>
<text x="129.8" y="766.4" font-size="9.4" fill="#2b2728" font-weight="normal" text-anchor="middle" stroke="#2b2728" stroke-width="0.4">100</text>
<text x="238.3" y="766.4" font-size="9.4" fill="#2b2728" font-weight="normal" text-anchor="middle" stroke="#2b2728" stroke-width="0.4">120</text>
<text x="346.7" y="766.4" font-size="9.4" fill="#2b2728" font-weight="normal" text-anchor="middle" stroke="#2b2728" stroke-width="0.4">140</text>
<text x="455.2" y="766.4" font-size="9.4" fill="#2b2728" font-weight="normal" text-anchor="middle" stroke="#2b2728" stroke-width="0.4">160</text>
<text x="563.6" y="766.4" font-size="9.4" fill="#2b2728" font-weight="normal" text-anchor="middle" stroke="#2b2728" stroke-width="0.4">180</text>
<text x="672.0" y="766.4" font-size="9.4" fill="#2b2728" font-weight="normal" text-anchor="middle" stroke="#2b2728" stroke-width="0.4">200</text>
<path d="M21.4,772 H672 M21.40,767.5 V775.6 M75.62,767.5 V775.6 M129.84,767.5 V775.6 M184.06,767.5 V775.6 M238.28,767.5 V775.6 M292.50,767.5 V775.6 M346.72,767.5 V775.6 M400.94,767.5 V775.6 M455.16,767.5 V775.6 M509.38,767.5 V775.6 M563.60,767.5 V775.6 M617.82,767.5 V775.6 M672.04,767.5 V775.6 M21.4,767.7 V875.0 M18.2,779.8 H25.0 M18.2,790.29 H25.0 M18.2,800.78 H25.0 M18.2,811.27 H25.0 M18.2,821.76 H25.0 M18.2,832.25 H25.0 M18.2,842.74 H25.0 M18.2,853.23 H25.0 M18.2,863.7199999999999 H25.0 M672,767.7 V875.0 M18.4,874.4 H672 " stroke="#3d3838" stroke-width="1.5" fill="none"/>
<path d="M110.06,873.50 L110.06,873.50 L110.06,873.50 L110.31,873.42 L110.56,873.29 L110.81,873.10 L111.06,872.87 L111.31,872.61 L111.56,872.32 L111.81,872.02 L112.06,871.71 L112.31,871.41 L112.56,871.12 L112.81,870.87 L113.06,870.65 L113.31,870.48 L113.56,870.35 L113.70,870.30 L113.81,870.34 L114.06,870.46 L114.31,870.63 L114.56,870.84 L114.81,871.09 L115.06,871.37 L115.31,871.67 L115.56,871.98 L115.81,872.28 L116.06,872.58 L116.31,872.84 L116.56,872.96 L116.81,872.67 L117.06,872.07 L117.31,871.19 L117.56,870.04 L117.81,868.73 L118.06,867.32 L118.31,865.86 L118.56,864.41 L118.81,863.00 L119.06,861.71 L119.31,860.56 L119.56,859.60 L119.81,858.86 L120.06,858.36 L120.10,858.30 L120.31,858.68 L120.56,859.34 L120.81,860.23 L121.06,861.32 L121.31,862.58 L121.56,863.95 L121.81,865.39 L122.06,866.86 L122.31,868.29 L122.56,869.63 L122.81,869.87 L123.06,869.22 L123.31,867.74 L123.56,865.47 L123.81,862.43 L124.06,858.83 L124.31,855.04 L124.56,851.21 L124.81,847.46 L125.06,843.94 L125.31,840.77 L125.56,838.05 L125.81,835.88 L126.06,834.30 L126.20,833.70 L126.31,834.16 L126.56,835.66 L126.81,837.76 L127.06,840.42 L127.31,843.54 L127.56,847.02 L127.81,850.75 L128.06,854.58 L128.31,858.38 L128.56,862.01 L128.81,865.33 L129.06,866.97 L129.31,866.62 L129.56,864.54 L129.81,860.78 L130.06,855.23 L130.31,848.99 L130.56,842.38 L130.81,835.63 L131.06,828.99 L131.31,822.71 L131.56,816.99 L131.81,812.04 L132.06,808.01 L132.31,805.03 L132.50,803.50 L132.56,803.91 L132.81,806.33 L133.06,809.82 L133.31,814.31 L133.56,819.65 L133.81,825.67 L134.06,832.15 L134.31,838.87 L134.56,845.59 L134.81,852.05 L135.06,858.01 L135.31,861.61 L135.56,863.10 L135.81,862.46 L136.06,859.70 L136.31,854.47 L136.56,848.28 L136.81,841.78 L137.06,835.19 L137.31,828.75 L137.56,822.70 L137.81,817.25 L138.06,812.58 L138.31,808.84 L138.56,806.14 L138.70,805.10 L138.81,805.89 L139.06,808.46 L139.31,812.08 L139.56,816.64 L139.81,822.01 L140.06,828.00 L140.31,834.40 L140.56,840.99 L140.81,847.52 L141.06,853.75 L141.31,859.46 L141.56,864.05 L141.81,867.26 L142.06,869.06 L142.31,869.36 L142.56,867.71 L142.81,865.73 L143.06,863.63 L143.31,861.49 L143.56,859.39 L143.81,857.39 L144.06,855.58 L144.31,854.01 L144.56,852.73 L144.81,851.78 L145.00,851.30 L145.06,851.43 L145.31,852.20 L145.56,853.30 L145.81,854.73 L146.06,856.42 L146.31,858.33 L146.56,860.39 L146.81,862.52 L147.06,864.65 L147.31,866.70 L147.56,868.59 L147.81,870.25 L148.06,871.57 L148.31,872.51 L148.56,873.03 L148.81,872.97 L149.06,872.76 L149.31,872.53 L149.56,872.29 L149.81,872.05 L150.06,871.82 L150.31,871.60 L150.56,871.41 L150.81,871.24 L151.06,871.11 L151.31,871.02 L151.40,871.00 L151.56,871.04 L151.81,871.15 L152.06,871.29 L152.31,871.46 L152.56,871.66 L152.81,871.88 L153.06,872.12 L153.31,872.36 L153.56,872.60 L153.81,872.82 L154.06,873.03 L154.31,873.20 L154.56,873.34 L154.81,873.45 L155.04,873.50 L155.04,873.50 Z" fill="#1fa25b" fill-opacity="0.3" stroke="none"/>
<path d="M112.25,873.50 L113.70,870.30 L120.10,858.30 L126.20,833.70 L132.50,803.50 L138.70,805.10 L145.00,851.30 L151.40,871.00 L152.85,873.50 Z" fill="#1fa25b" fill-opacity="0.03" stroke="none"/>
<path d="M238.41,873.50 L238.41,873.50 L238.41,873.50 L238.66,873.34 L238.91,873.06 L239.16,872.67 L239.41,872.19 L239.66,871.65 L239.91,871.06 L240.16,870.45 L240.41,869.85 L240.66,869.29 L240.91,868.79 L241.16,868.36 L241.41,868.04 L241.66,867.82 L241.70,867.80 L241.91,867.96 L242.16,868.25 L242.41,868.64 L242.66,869.12 L242.91,869.67 L243.16,870.26 L243.41,870.86 L243.66,871.46 L243.91,872.02 L244.16,872.53 L244.41,872.95 L244.66,872.97 L244.91,872.30 L245.16,871.05 L245.41,869.40 L245.66,867.47 L245.91,865.34 L246.16,863.11 L246.41,860.87 L246.66,858.72 L246.91,856.76 L247.16,855.07 L247.41,853.73 L247.66,852.76 L247.80,852.40 L247.91,852.67 L248.16,853.59 L248.41,854.89 L248.66,856.54 L248.91,858.47 L249.16,860.60 L249.41,862.84 L249.66,865.08 L249.91,867.23 L250.16,869.19 L250.41,869.83 L250.66,868.86 L250.91,866.51 L251.16,862.78 L251.41,858.03 L251.66,852.84 L251.91,847.44 L252.16,842.09 L252.41,837.00 L252.66,832.41 L252.91,828.51 L253.16,825.44 L253.41,823.32 L253.50,822.80 L253.66,823.82 L253.91,826.21 L254.16,829.52 L254.41,833.64 L254.66,838.38 L254.91,843.57 L255.16,848.96 L255.41,854.32 L255.66,859.41 L255.91,864.00 L256.16,867.89 L256.41,870.90 L256.66,870.57 L256.91,866.97 L257.16,861.22 L257.41,854.15 L257.66,846.06 L257.91,837.32 L258.16,828.32 L258.41,819.46 L258.66,811.14 L258.91,803.70 L259.16,797.47 L259.41,792.67 L259.66,789.46 L259.70,789.10 L259.91,791.46 L260.16,795.76 L260.41,801.56 L260.66,808.64 L260.91,816.72 L261.16,825.45 L261.41,834.45 L261.66,843.32 L261.91,851.65 L262.16,859.09 L262.41,864.48 L262.66,865.51 L262.91,862.81 L263.16,855.93 L263.41,847.10 L263.66,837.25 L263.91,826.81 L264.16,816.25 L264.41,806.04 L264.66,796.63 L264.91,788.43 L265.16,781.75 L265.41,776.85 L265.60,774.40 L265.66,775.05 L265.91,778.97 L266.16,784.75 L266.41,792.19 L266.66,801.02 L266.91,810.87 L267.16,821.30 L267.41,831.86 L267.66,842.08 L267.91,851.49 L268.16,859.68 L268.41,865.13 L268.66,867.26 L268.91,866.01 L269.16,861.36 L269.41,855.98 L269.66,850.11 L269.91,844.00 L270.16,837.93 L270.41,832.18 L270.66,826.98 L270.91,822.56 L271.16,819.09 L271.41,816.69 L271.50,816.10 L271.66,817.25 L271.91,819.96 L272.16,823.71 L272.41,828.37 L272.66,833.74 L272.91,839.61 L273.16,845.72 L273.41,851.79 L273.66,857.55 L273.91,862.75 L274.16,867.11 L274.41,870.15 L274.66,871.81 L274.91,871.65 L275.16,870.65 L275.41,869.53 L275.66,868.33 L275.91,867.10 L276.16,865.90 L276.41,864.79 L276.66,863.81 L276.91,862.99 L277.16,862.38 L277.40,862.00 L277.41,862.01 L277.66,862.42 L277.91,863.05 L278.16,863.88 L278.41,864.87 L278.66,866.00 L278.91,867.20 L279.16,868.42 L279.41,869.62 L279.66,870.74 L279.91,871.72 L280.16,872.53 L280.41,873.11 L280.66,873.38 L280.91,873.28 L281.16,873.13 L281.41,872.94 L281.66,872.73 L281.91,872.51 L282.16,872.29 L282.41,872.07 L282.66,871.87 L282.91,871.70 L283.16,871.56 L283.41,871.45 L283.60,871.40 L283.66,871.41 L283.91,871.50 L284.16,871.62 L284.41,871.78 L284.66,871.96 L284.91,872.17 L285.16,872.39 L285.41,872.62 L285.66,872.83 L285.91,873.03 L286.16,873.21 L286.41,873.35 L286.66,873.45 L286.89,873.50 L286.89,873.50 Z" fill="#1fa25b" fill-opacity="0.3" stroke="none"/>
<path d="M240.32,873.50 L241.70,867.80 L247.80,852.40 L253.50,822.80 L259.70,789.10 L265.60,774.40 L271.50,816.10 L277.40,862.00 L283.60,871.40 L284.98,873.50 Z" fill="#1fa25b" fill-opacity="0.03" stroke="none"/>
<path d="M384.81,873.50 L384.81,873.50 L384.81,873.50 L385.06,873.43 L385.31,873.30 L385.56,873.12 L385.81,872.90 L386.06,872.65 L386.31,872.38 L386.56,872.10 L386.81,871.84 L387.06,871.59 L387.31,871.37 L387.56,871.19 L387.81,871.06 L388.00,871.00 L388.06,871.02 L388.31,871.12 L388.56,871.27 L388.81,871.47 L389.06,871.70 L389.31,871.96 L389.56,872.24 L389.81,872.51 L390.06,872.77 L390.31,873.01 L390.56,873.21 L390.81,873.26 L391.06,873.12 L391.31,872.80 L391.56,872.37 L391.81,871.87 L392.06,871.33 L392.31,870.77 L392.56,870.21 L392.81,869.70 L393.06,869.24 L393.31,868.86 L393.56,868.58 L393.80,868.40 L393.81,868.41 L394.06,868.59 L394.31,868.89 L394.56,869.27 L394.81,869.74 L395.06,870.26 L395.31,870.81 L395.56,871.37 L395.81,871.91 L396.06,872.41 L396.31,872.84 L396.56,873.17 L396.81,873.17 L397.06,872.72 L397.31,871.96 L397.56,871.00 L397.81,869.89 L398.06,868.68 L398.31,867.44 L398.56,866.22 L398.81,865.07 L399.06,864.06 L399.31,863.22 L399.56,862.59 L399.80,862.20 L399.81,862.21 L400.06,862.63 L400.31,863.28 L400.56,864.13 L400.81,865.16 L401.06,866.31 L401.31,867.54 L401.56,868.78 L401.81,869.98 L402.06,871.08 L402.31,872.03 L402.56,872.43 L402.81,871.89 L403.06,870.54 L403.31,868.54 L403.56,866.20 L403.81,863.63 L404.06,860.95 L404.31,858.29 L404.56,855.78 L404.81,853.52 L405.06,851.63 L405.31,850.17 L405.56,849.21 L405.60,849.10 L405.81,849.81 L406.06,851.11 L406.31,852.87 L406.56,855.02 L406.81,857.47 L407.06,860.09 L407.31,862.78 L407.56,865.40 L407.81,867.82 L408.06,869.94 L408.31,871.65 L408.56,871.58 L408.81,869.86 L409.06,866.63 L409.31,862.67 L409.56,858.15 L409.81,853.29 L410.06,848.32 L410.31,843.49 L410.56,839.01 L410.81,835.09 L411.06,831.90 L411.31,829.56 L411.50,828.40 L411.56,828.71 L411.81,830.57 L412.06,833.33 L412.31,836.89 L412.56,841.10 L412.81,845.78 L413.06,850.71 L413.31,855.65 L413.56,860.37 L413.81,864.65 L414.06,868.29 L414.31,871.10 L414.56,871.22 L414.81,868.60 L415.06,864.26 L415.31,858.92 L415.56,852.84 L415.81,846.30 L416.06,839.62 L416.31,833.11 L416.56,827.08 L416.81,821.80 L417.06,817.51 L417.31,814.36 L417.50,812.80 L417.56,813.21 L417.81,815.72 L418.06,819.43 L418.31,824.22 L418.56,829.89 L418.81,836.19 L419.06,842.82 L419.31,849.48 L419.56,855.83 L419.81,861.59 L420.06,866.48 L420.31,869.81 L420.56,870.16 L420.81,867.51 L421.06,863.12 L421.31,857.90 L421.56,852.10 L421.81,845.99 L422.06,839.86 L422.31,834.01 L422.56,828.71 L422.81,824.19 L423.06,820.64 L423.31,818.20 L423.40,817.60 L423.56,818.77 L423.81,821.53 L424.06,825.36 L424.31,830.12 L424.56,835.61 L424.81,841.56 L425.06,847.71 L425.31,853.77 L425.56,859.43 L425.81,864.44 L426.06,868.57 L426.31,871.37 L426.56,872.04 L426.81,870.42 L427.06,868.15 L427.31,865.46 L427.56,862.47 L427.81,859.33 L428.06,856.17 L428.31,853.16 L428.56,850.42 L428.81,848.09 L429.06,846.27 L429.31,845.01 L429.40,844.70 L429.56,845.30 L429.81,846.72 L430.06,848.70 L430.31,851.15 L430.56,853.98 L430.81,857.05 L431.06,860.21 L431.31,863.33 L431.56,866.25 L431.81,868.83 L432.06,870.96 L432.31,872.40 L432.56,873.03 L432.81,872.68 L433.06,872.17 L433.31,871.58 L433.56,870.94 L433.81,870.28 L434.06,869.63 L434.31,869.03 L434.56,868.49 L434.81,868.04 L435.06,867.71 L435.30,867.50 L435.31,867.51 L435.56,867.73 L435.81,868.07 L436.06,868.53 L436.31,869.07 L436.56,869.68 L436.81,870.34 L437.06,870.99 L437.31,871.58 L437.56,872.09 L437.81,872.50 L438.06,872.78 L438.31,872.92 L438.56,872.89 L438.81,872.75 L439.06,872.61 L439.31,872.48 L439.56,872.37 L439.81,872.29 L440.06,872.22 L440.20,872.20 L440.31,872.22 L440.56,872.28 L440.81,872.36 L441.06,872.47 L441.31,872.59 L441.56,872.73 L441.81,872.87 L442.06,873.01 L442.31,873.15 L442.56,873.27 L442.81,873.37 L443.06,873.44 L443.31,873.49 L443.39,873.50 L443.39,873.50 Z" fill="#1fa25b" fill-opacity="0.3" stroke="none"/>
<path d="M386.62,873.50 L388.00,871.00 L393.80,868.40 L399.80,862.20 L405.60,849.10 L411.50,828.40 L417.50,812.80 L423.40,817.60 L429.40,844.70 L435.30,867.50 L440.20,872.20 L441.57,873.50 Z" fill="#1fa25b" fill-opacity="0.03" stroke="none"/>
<path d="M21.40,873.5 H111.06 M154.04,873.5 H239.41 M285.89,873.5 H385.81 M442.39,873.5 H672" stroke="#1fa25b" stroke-width="1.45" fill="none"/>
<path d="M47.40,873.50 L47.40,873.50 L47.40,873.50 L47.65,873.30 L47.90,873.10 L48.15,872.91 L48.40,872.71 L48.65,872.52 L48.90,872.33 L49.15,872.14 L49.40,871.96 L49.65,871.78 L49.90,871.61 L50.15,871.44 L50.40,871.28 L50.65,871.13 L50.90,870.98 L51.15,870.84 L51.40,870.71 L51.65,870.59 L51.90,870.48 L52.15,870.38 L52.40,870.28 L52.65,870.20 L52.90,870.12 L53.15,870.06 L53.40,870.01 L53.65,869.96 L53.90,869.93 L54.15,869.91 L54.40,869.90 L54.65,869.90 L54.90,869.91 L55.15,869.94 L55.40,869.97 L55.65,870.02 L55.90,870.07 L56.15,870.14 L56.40,870.21 L56.65,870.30 L56.90,870.40 L57.15,870.50 L57.40,870.62 L57.65,870.74 L57.90,870.87 L58.15,871.01 L58.40,871.16 L58.65,871.31 L58.90,871.48 L59.15,871.64 L59.40,871.82 L59.65,871.99 L59.90,872.18 L60.15,872.36 L60.40,872.56 L60.65,872.75 L60.90,872.94 L61.15,873.14 L61.40,873.34 L61.60,873.50 L61.60,873.50" stroke="#1fa25b" stroke-width="1.2" fill="none" stroke-linejoin="round"/>
<path d="M300.00,873.50 L300.00,873.50 L300.00,873.50 L300.25,872.91 L300.50,872.35 L300.75,871.83 L301.00,871.38 L301.25,871.01 L301.50,870.73 L301.75,870.56 L302.00,870.50 L302.25,870.56 L302.50,870.73 L302.75,871.01 L303.00,871.38 L303.25,871.83 L303.50,872.35 L303.75,872.91 L304.00,873.50 L304.00,873.50 L304.00,873.50" stroke="#1fa25b" stroke-width="1.2" fill="none" stroke-linejoin="round"/>
<path d="M305.50,873.50 L305.50,873.50 L305.50,873.50 L305.75,872.98 L306.00,872.47 L306.25,872.00 L306.50,871.57 L306.75,871.20 L307.00,870.90 L307.25,870.68 L307.50,870.55 L307.75,870.50 L308.00,870.55 L308.25,870.68 L308.50,870.90 L308.75,871.20 L309.00,871.57 L309.25,872.00 L309.50,872.47 L309.75,872.98 L310.00,873.50 L310.00,873.50 L310.00,873.50" stroke="#1fa25b" stroke-width="1.2" fill="none" stroke-linejoin="round"/>
<path d="M110.06,873.50 L110.06,873.50 L110.06,873.50 L110.31,873.42 L110.56,873.29 L110.81,873.10 L111.06,872.87 L111.31,872.61 L111.56,872.32 L111.81,872.02 L112.06,871.71 L112.31,871.41 L112.56,871.12 L112.81,870.87 L113.06,870.65 L113.31,870.48 L113.56,870.35 L113.70,870.30 L113.81,870.34 L114.06,870.46 L114.31,870.63 L114.56,870.84 L114.81,871.09 L115.06,871.37 L115.31,871.67 L115.56,871.98 L115.81,872.28 L116.06,872.58 L116.31,872.84 L116.56,872.96 L116.81,872.67 L117.06,872.07 L117.31,871.19 L117.56,870.04 L117.81,868.73 L118.06,867.32 L118.31,865.86 L118.56,864.41 L118.81,863.00 L119.06,861.71 L119.31,860.56 L119.56,859.60 L119.81,858.86 L120.06,858.36 L120.10,858.30 L120.31,858.68 L120.56,859.34 L120.81,860.23 L121.06,861.32 L121.31,862.58 L121.56,863.95 L121.81,865.39 L122.06,866.86 L122.31,868.29 L122.56,869.63 L122.81,869.87 L123.06,869.22 L123.31,867.74 L123.56,865.47 L123.81,862.43 L124.06,858.83 L124.31,855.04 L124.56,851.21 L124.81,847.46 L125.06,843.94 L125.31,840.77 L125.56,838.05 L125.81,835.88 L126.06,834.30 L126.20,833.70 L126.31,834.16 L126.56,835.66 L126.81,837.76 L127.06,840.42 L127.31,843.54 L127.56,847.02 L127.81,850.75 L128.06,854.58 L128.31,858.38 L128.56,862.01 L128.81,865.33 L129.06,866.97 L129.31,866.62 L129.56,864.54 L129.81,860.78 L130.06,855.23 L130.31,848.99 L130.56,842.38 L130.81,835.63 L131.06,828.99 L131.31,822.71 L131.56,816.99 L131.81,812.04 L132.06,808.01 L132.31,805.03 L132.50,803.50 L132.56,803.91 L132.81,806.33 L133.06,809.82 L133.31,814.31 L133.56,819.65 L133.81,825.67 L134.06,832.15 L134.31,838.87 L134.56,845.59 L134.81,852.05 L135.06,858.01 L135.31,861.61 L135.56,863.10 L135.81,862.46 L136.06,859.70 L136.31,854.47 L136.56,848.28 L136.81,841.78 L137.06,835.19 L137.31,828.75 L137.56,822.70 L137.81,817.25 L138.06,812.58 L138.31,808.84 L138.56,806.14 L138.70,805.10 L138.81,805.89 L139.06,808.46 L139.31,812.08 L139.56,816.64 L139.81,822.01 L140.06,828.00 L140.31,834.40 L140.56,840.99 L140.81,847.52 L141.06,853.75 L141.31,859.46 L141.56,864.05 L141.81,867.26 L142.06,869.06 L142.31,869.36 L142.56,867.71 L142.81,865.73 L143.06,863.63 L143.31,861.49 L143.56,859.39 L143.81,857.39 L144.06,855.58 L144.31,854.01 L144.56,852.73 L144.81,851.78 L145.00,851.30 L145.06,851.43 L145.31,852.20 L145.56,853.30 L145.81,854.73 L146.06,856.42 L146.31,858.33 L146.56,860.39 L146.81,862.52 L147.06,864.65 L147.31,866.70 L147.56,868.59 L147.81,870.25 L148.06,871.57 L148.31,872.51 L148.56,873.03 L148.81,872.97 L149.06,872.76 L149.31,872.53 L149.56,872.29 L149.81,872.05 L150.06,871.82 L150.31,871.60 L150.56,871.41 L150.81,871.24 L151.06,871.11 L151.31,871.02 L151.40,871.00 L151.56,871.04 L151.81,871.15 L152.06,871.29 L152.31,871.46 L152.56,871.66 L152.81,871.88 L153.06,872.12 L153.31,872.36 L153.56,872.60 L153.81,872.82 L154.06,873.03 L154.31,873.20 L154.56,873.34 L154.81,873.45 L155.04,873.50 L155.04,873.50" stroke="#1fa25b" stroke-width="1.4" fill="none" stroke-linejoin="round"/>
<path d="M238.41,873.50 L238.41,873.50 L238.41,873.50 L238.66,873.34 L238.91,873.06 L239.16,872.67 L239.41,872.19 L239.66,871.65 L239.91,871.06 L240.16,870.45 L240.41,869.85 L240.66,869.29 L240.91,868.79 L241.16,868.36 L241.41,868.04 L241.66,867.82 L241.70,867.80 L241.91,867.96 L242.16,868.25 L242.41,868.64 L242.66,869.12 L242.91,869.67 L243.16,870.26 L243.41,870.86 L243.66,871.46 L243.91,872.02 L244.16,872.53 L244.41,872.95 L244.66,872.97 L244.91,872.30 L245.16,871.05 L245.41,869.40 L245.66,867.47 L245.91,865.34 L246.16,863.11 L246.41,860.87 L246.66,858.72 L246.91,856.76 L247.16,855.07 L247.41,853.73 L247.66,852.76 L247.80,852.40 L247.91,852.67 L248.16,853.59 L248.41,854.89 L248.66,856.54 L248.91,858.47 L249.16,860.60 L249.41,862.84 L249.66,865.08 L249.91,867.23 L250.16,869.19 L250.41,869.83 L250.66,868.86 L250.91,866.51 L251.16,862.78 L251.41,858.03 L251.66,852.84 L251.91,847.44 L252.16,842.09 L252.41,837.00 L252.66,832.41 L252.91,828.51 L253.16,825.44 L253.41,823.32 L253.50,822.80 L253.66,823.82 L253.91,826.21 L254.16,829.52 L254.41,833.64 L254.66,838.38 L254.91,843.57 L255.16,848.96 L255.41,854.32 L255.66,859.41 L255.91,864.00 L256.16,867.89 L256.41,870.90 L256.66,870.57 L256.91,866.97 L257.16,861.22 L257.41,854.15 L257.66,846.06 L257.91,837.32 L258.16,828.32 L258.41,819.46 L258.66,811.14 L258.91,803.70 L259.16,797.47 L259.41,792.67 L259.66,789.46 L259.70,789.10 L259.91,791.46 L260.16,795.76 L260.41,801.56 L260.66,808.64 L260.91,816.72 L261.16,825.45 L261.41,834.45 L261.66,843.32 L261.91,851.65 L262.16,859.09 L262.41,864.48 L262.66,865.51 L262.91,862.81 L263.16,855.93 L263.41,847.10 L263.66,837.25 L263.91,826.81 L264.16,816.25 L264.41,806.04 L264.66,796.63 L264.91,788.43 L265.16,781.75 L265.41,776.85 L265.60,774.40 L265.66,775.05 L265.91,778.97 L266.16,784.75 L266.41,792.19 L266.66,801.02 L266.91,810.87 L267.16,821.30 L267.41,831.86 L267.66,842.08 L267.91,851.49 L268.16,859.68 L268.41,865.13 L268.66,867.26 L268.91,866.01 L269.16,861.36 L269.41,855.98 L269.66,850.11 L269.91,844.00 L270.16,837.93 L270.41,832.18 L270.66,826.98 L270.91,822.56 L271.16,819.09 L271.41,816.69 L271.50,816.10 L271.66,817.25 L271.91,819.96 L272.16,823.71 L272.41,828.37 L272.66,833.74 L272.91,839.61 L273.16,845.72 L273.41,851.79 L273.66,857.55 L273.91,862.75 L274.16,867.11 L274.41,870.15 L274.66,871.81 L274.91,871.65 L275.16,870.65 L275.41,869.53 L275.66,868.33 L275.91,867.10 L276.16,865.90 L276.41,864.79 L276.66,863.81 L276.91,862.99 L277.16,862.38 L277.40,862.00 L277.41,862.01 L277.66,862.42 L277.91,863.05 L278.16,863.88 L278.41,864.87 L278.66,866.00 L278.91,867.20 L279.16,868.42 L279.41,869.62 L279.66,870.74 L279.91,871.72 L280.16,872.53 L280.41,873.11 L280.66,873.38 L280.91,873.28 L281.16,873.13 L281.41,872.94 L281.66,872.73 L281.91,872.51 L282.16,872.29 L282.41,872.07 L282.66,871.87 L282.91,871.70 L283.16,871.56 L283.41,871.45 L283.60,871.40 L283.66,871.41 L283.91,871.50 L284.16,871.62 L284.41,871.78 L284.66,871.96 L284.91,872.17 L285.16,872.39 L285.41,872.62 L285.66,872.83 L285.91,873.03 L286.16,873.21 L286.41,873.35 L286.66,873.45 L286.89,873.50 L286.89,873.50" stroke="#1fa25b" stroke-width="1.4" fill="none" stroke-linejoin="round"/>
<path d="M384.81,873.50 L384.81,873.50 L384.81,873.50 L385.06,873.43 L385.31,873.30 L385.56,873.12 L385.81,872.90 L386.06,872.65 L386.31,872.38 L386.56,872.10 L386.81,871.84 L387.06,871.59 L387.31,871.37 L387.56,871.19 L387.81,871.06 L388.00,871.00 L388.06,871.02 L388.31,871.12 L388.56,871.27 L388.81,871.47 L389.06,871.70 L389.31,871.96 L389.56,872.24 L389.81,872.51 L390.06,872.77 L390.31,873.01 L390.56,873.21 L390.81,873.26 L391.06,873.12 L391.31,872.80 L391.56,872.37 L391.81,871.87 L392.06,871.33 L392.31,870.77 L392.56,870.21 L392.81,869.70 L393.06,869.24 L393.31,868.86 L393.56,868.58 L393.80,868.40 L393.81,868.41 L394.06,868.59 L394.31,868.89 L394.56,869.27 L394.81,869.74 L395.06,870.26 L395.31,870.81 L395.56,871.37 L395.81,871.91 L396.06,872.41 L396.31,872.84 L396.56,873.17 L396.81,873.17 L397.06,872.72 L397.31,871.96 L397.56,871.00 L397.81,869.89 L398.06,868.68 L398.31,867.44 L398.56,866.22 L398.81,865.07 L399.06,864.06 L399.31,863.22 L399.56,862.59 L399.80,862.20 L399.81,862.21 L400.06,862.63 L400.31,863.28 L400.56,864.13 L400.81,865.16 L401.06,866.31 L401.31,867.54 L401.56,868.78 L401.81,869.98 L402.06,871.08 L402.31,872.03 L402.56,872.43 L402.81,871.89 L403.06,870.54 L403.31,868.54 L403.56,866.20 L403.81,863.63 L404.06,860.95 L404.31,858.29 L404.56,855.78 L404.81,853.52 L405.06,851.63 L405.31,850.17 L405.56,849.21 L405.60,849.10 L405.81,849.81 L406.06,851.11 L406.31,852.87 L406.56,855.02 L406.81,857.47 L407.06,860.09 L407.31,862.78 L407.56,865.40 L407.81,867.82 L408.06,869.94 L408.31,871.65 L408.56,871.58 L408.81,869.86 L409.06,866.63 L409.31,862.67 L409.56,858.15 L409.81,853.29 L410.06,848.32 L410.31,843.49 L410.56,839.01 L410.81,835.09 L411.06,831.90 L411.31,829.56 L411.50,828.40 L411.56,828.71 L411.81,830.57 L412.06,833.33 L412.31,836.89 L412.56,841.10 L412.81,845.78 L413.06,850.71 L413.31,855.65 L413.56,860.37 L413.81,864.65 L414.06,868.29 L414.31,871.10 L414.56,871.22 L414.81,868.60 L415.06,864.26 L415.31,858.92 L415.56,852.84 L415.81,846.30 L416.06,839.62 L416.31,833.11 L416.56,827.08 L416.81,821.80 L417.06,817.51 L417.31,814.36 L417.50,812.80 L417.56,813.21 L417.81,815.72 L418.06,819.43 L418.31,824.22 L418.56,829.89 L418.81,836.19 L419.06,842.82 L419.31,849.48 L419.56,855.83 L419.81,861.59 L420.06,866.48 L420.31,869.81 L420.56,870.16 L420.81,867.51 L421.06,863.12 L421.31,857.90 L421.56,852.10 L421.81,845.99 L422.06,839.86 L422.31,834.01 L422.56,828.71 L422.81,824.19 L423.06,820.64 L423.31,818.20 L423.40,817.60 L423.56,818.77 L423.81,821.53 L424.06,825.36 L424.31,830.12 L424.56,835.61 L424.81,841.56 L425.06,847.71 L425.31,853.77 L425.56,859.43 L425.81,864.44 L426.06,868.57 L426.31,871.37 L426.56,872.04 L426.81,870.42 L427.06,868.15 L427.31,865.46 L427.56,862.47 L427.81,859.33 L428.06,856.17 L428.31,853.16 L428.56,850.42 L428.81,848.09 L429.06,846.27 L429.31,845.01 L429.40,844.70 L429.56,845.30 L429.81,846.72 L430.06,848.70 L430.31,851.15 L430.56,853.98 L430.81,857.05 L431.06,860.21 L431.31,863.33 L431.56,866.25 L431.81,868.83 L432.06,870.96 L432.31,872.40 L432.56,873.03 L432.81,872.68 L433.06,872.17 L433.31,871.58 L433.56,870.94 L433.81,870.28 L434.06,869.63 L434.31,869.03 L434.56,868.49 L434.81,868.04 L435.06,867.71 L435.30,867.50 L435.31,867.51 L435.56,867.73 L435.81,868.07 L436.06,868.53 L436.31,869.07 L436.56,869.68 L436.81,870.34 L437.06,870.99 L437.31,871.58 L437.56,872.09 L437.81,872.50 L438.06,872.78 L438.31,872.92 L438.56,872.89 L438.81,872.75 L439.06,872.61 L439.31,872.48 L439.56,872.37 L439.81,872.29 L440.06,872.22 L440.20,872.20 L440.31,872.22 L440.56,872.28 L440.81,872.36 L441.06,872.47 L441.31,872.59 L441.56,872.73 L441.81,872.87 L442.06,873.01 L442.31,873.15 L442.56,873.27 L442.81,873.37 L443.06,873.44 L443.31,873.49 L443.39,873.50 L443.39,873.50" stroke="#1fa25b" stroke-width="1.4" fill="none" stroke-linejoin="round"/>
<rect x="13.8" y="897.1" width="658.9000000000001" height="16.0" fill="#e1e2e2"/>
<text x="17" y="908.9" font-size="12" fill="#2b2728" font-weight="normal" text-anchor="start" textLength="26" lengthAdjust="spacingAndGlyphs" stroke="#2b2728" stroke-width="0.35">TMR</text>
<text x="285.6" y="908.9" font-size="12" fill="#2b2728" font-weight="normal" text-anchor="start" textLength="35.4" lengthAdjust="spacingAndGlyphs" stroke="#2b2728" stroke-width="0.35">NR-24</text>
<text x="491" y="908.9" font-size="12" fill="#2b2728" font-weight="normal" text-anchor="start" textLength="46" lengthAdjust="spacingAndGlyphs" stroke="#2b2728" stroke-width="0.35">Penta-C</text>
<rect x="286.3" y="937.5" width="34.30000000000001" height="108.00000000000004" fill="#e6e6e7"/>
<text x="21.4" y="930.4" font-size="9.4" fill="#2b2728" font-weight="normal" text-anchor="middle" stroke="#2b2728" stroke-width="0.4">80</text>
<text x="129.8" y="930.4" font-size="9.4" fill="#2b2728" font-weight="normal" text-anchor="middle" stroke="#2b2728" stroke-width="0.4">100</text>
<text x="238.3" y="930.4" font-size="9.4" fill="#2b2728" font-weight="normal" text-anchor="middle" stroke="#2b2728" stroke-width="0.4">120</text>
<text x="346.7" y="930.4" font-size="9.4" fill="#2b2728" font-weight="normal" text-anchor="middle" stroke="#2b2728" stroke-width="0.4">140</text>
<text x="455.2" y="930.4" font-size="9.4" fill="#2b2728" font-weight="normal" text-anchor="middle" stroke="#2b2728" stroke-width="0.4">160</text>
<text x="563.6" y="930.4" font-size="9.4" fill="#2b2728" font-weight="normal" text-anchor="middle" stroke="#2b2728" stroke-width="0.4">180</text>
<text x="672.0" y="930.4" font-size="9.4" fill="#2b2728" font-weight="normal" text-anchor="middle" stroke="#2b2728" stroke-width="0.4">200</text>
<path d="M21.4,936.3 H672 M21.40,931.8 V939.9 M75.62,931.8 V939.9 M129.84,931.8 V939.9 M184.06,931.8 V939.9 M238.28,931.8 V939.9 M292.50,931.8 V939.9 M346.72,931.8 V939.9 M400.94,931.8 V939.9 M455.16,931.8 V939.9 M509.38,931.8 V939.9 M563.60,931.8 V939.9 M617.82,931.8 V939.9 M672.04,931.8 V939.9 M21.4,932.0 V1046.7 M18.2,942.3 H25.0 M18.2,954.4 H25.0 M18.2,968.4 H25.0 M18.2,981 H25.0 M18.2,994 H25.0 M18.2,1006.9 H25.0 M18.2,1019 H25.0 M18.2,1032.5 H25.0 M672,932.0 V1046.7 M18.4,1046.1 H672 " stroke="#3d3838" stroke-width="1.5" fill="none"/>
<path d="M513,913.5 V920.7 M475.7,931.9 V920.7 H551.3 V931.9" stroke="#3d3838" stroke-width="1.2" fill="none"/>
<path d="M281.40,1045.20 L281.40,1045.20 L281.40,1045.20 L281.65,1045.04 L281.90,1044.84 L282.15,1044.62 L282.40,1044.39 L282.65,1044.15 L282.90,1043.89 L283.15,1043.63 L283.40,1043.37 L283.65,1043.11 L283.90,1042.86 L284.15,1042.61 L284.40,1042.37 L284.65,1042.14 L284.70,1042.10 L284.90,1042.28 L285.15,1042.51 L285.40,1042.76 L285.65,1043.01 L285.90,1043.27 L286.15,1043.53 L286.40,1043.79 L286.65,1044.04 L286.90,1044.29 L287.15,1044.53 L287.40,1044.43 L287.65,1043.64 L287.90,1042.69 L288.15,1041.52 L288.40,1040.20 L288.65,1038.83 L288.90,1037.41 L289.15,1035.97 L289.40,1034.54 L289.65,1033.11 L289.90,1031.72 L290.15,1030.38 L290.40,1029.09 L290.60,1028.10 L290.65,1028.34 L290.90,1029.60 L291.15,1030.91 L291.40,1032.27 L291.65,1033.68 L291.90,1035.11 L292.15,1036.55 L292.40,1037.98 L292.65,1039.38 L292.90,1040.74 L293.15,1041.56 L293.40,1039.99 L293.65,1037.84 L293.90,1035.19 L294.15,1031.40 L294.40,1027.42 L294.65,1023.31 L294.90,1019.12 L295.15,1014.92 L295.40,1010.75 L295.65,1006.67 L295.90,1002.72 L296.15,998.92 L296.40,995.30 L296.65,998.92 L296.90,1002.72 L297.15,1006.67 L297.40,1010.75 L297.65,1014.92 L297.90,1019.12 L298.15,1023.31 L298.40,1027.42 L298.65,1031.40 L298.90,1035.15 L299.15,1033.96 L299.40,1031.46 L299.65,1027.88 L299.90,1021.53 L300.15,1014.35 L300.40,1006.91 L300.65,999.32 L300.90,991.68 L301.15,984.09 L301.40,976.64 L301.65,969.40 L301.90,962.44 L302.15,955.79 L302.20,954.50 L302.40,959.74 L302.65,966.58 L302.90,973.72 L303.15,981.09 L303.40,988.64 L303.65,996.27 L303.90,1003.89 L304.15,1011.40 L304.40,1018.70 L304.65,1025.67 L304.90,1032.22 L305.15,1035.09 L305.40,1034.09 L305.65,1028.81 L305.90,1021.18 L306.15,1013.07 L306.40,1004.62 L306.65,995.95 L306.90,987.17 L307.15,978.41 L307.40,969.76 L307.65,961.33 L307.90,953.19 L308.15,945.40 L308.30,940.90 L308.40,943.88 L308.65,951.60 L308.90,959.68 L309.15,968.06 L309.40,976.67 L309.65,985.41 L309.90,994.20 L310.15,1002.90 L310.40,1011.41 L310.65,1019.59 L310.90,1027.33 L311.15,1033.56 L311.40,1038.12 L311.65,1040.31 L311.90,1038.04 L312.15,1035.62 L312.40,1033.10 L312.65,1030.51 L312.90,1027.90 L313.15,1025.28 L313.40,1022.71 L313.65,1020.19 L313.90,1017.76 L314.15,1015.44 L314.30,1014.10 L314.40,1014.99 L314.65,1017.29 L314.90,1019.70 L315.15,1022.20 L315.40,1024.76 L315.65,1027.37 L315.90,1029.99 L316.15,1032.59 L316.40,1035.12 L316.65,1037.56 L316.90,1039.78 L317.15,1041.64 L317.40,1043.23 L317.65,1044.17 L317.90,1043.80 L318.15,1043.41 L318.40,1043.01 L318.65,1042.61 L318.90,1042.21 L319.15,1041.81 L319.40,1041.42 L319.65,1041.04 L319.90,1040.68 L320.10,1040.40 L320.15,1040.47 L320.40,1040.82 L320.65,1041.19 L320.90,1041.57 L321.15,1041.97 L321.40,1042.37 L321.65,1042.77 L321.90,1043.17 L322.15,1043.57 L322.40,1043.95 L322.65,1044.31 L322.90,1044.64 L323.15,1044.95 L323.40,1045.20 L323.40,1045.20 L323.40,1045.20 Z" fill="#231f20" fill-opacity="0.15" stroke="none"/>
<path d="M283.30,1045.20 L284.70,1042.10 L290.60,1028.10 L296.40,995.30 L302.20,954.50 L308.30,940.90 L314.30,1014.10 L320.10,1040.40 L321.50,1045.20 Z" fill="#231f20" fill-opacity="0.05" stroke="none"/>
<path d="M21.40,1045.2 H282.40 M322.40,1045.2 H476.50 M494.50,1045.2 H533.10 M551.10,1045.2 H672" stroke="#231f20" stroke-width="1.45" fill="none"/>
<path d="M475.50,1045.20 L475.50,1045.20 L475.50,1045.02 L475.75,1044.99 L476.00,1044.96 L476.25,1044.92 L476.50,1044.88 L476.75,1044.83 L477.00,1044.78 L477.25,1044.72 L477.50,1044.66 L477.75,1044.59 L478.00,1044.51 L478.25,1044.43 L478.50,1044.33 L478.75,1044.24 L479.00,1044.13 L479.25,1044.02 L479.50,1043.90 L479.75,1043.78 L479.90,1043.70 L480.00,1043.65 L480.25,1043.51 L480.50,1043.37 L480.75,1043.22 L481.00,1043.08 L481.25,1042.93 L481.50,1042.77 L481.75,1040.22 L481.80,1039.47 L482.00,1036.43 L482.25,1032.55 L482.50,1028.62 L482.75,1024.64 L483.00,1020.63 L483.25,1016.58 L483.50,1012.51 L483.75,1008.41 L484.00,1004.29 L484.25,1000.15 L484.50,995.99 L484.75,991.82 L485.00,987.62 L485.25,983.42 L485.50,979.20 L485.75,983.42 L486.00,987.62 L486.25,991.82 L486.50,995.99 L486.75,1000.15 L487.00,1004.29 L487.25,1008.41 L487.50,1012.51 L487.75,1016.58 L488.00,1020.63 L488.10,1022.24 L488.25,1024.64 L488.50,1028.62 L488.75,1032.55 L489.00,1036.43 L489.25,1040.22 L489.50,1042.77 L489.75,1042.93 L490.00,1043.08 L490.25,1043.22 L490.50,1043.37 L490.75,1043.51 L491.00,1043.65 L491.25,1043.78 L491.50,1043.90 L491.75,1044.02 L492.00,1044.13 L492.25,1044.24 L492.50,1044.33 L492.75,1044.43 L493.00,1044.51 L493.25,1044.59 L493.50,1044.66 L493.75,1044.72 L494.00,1044.78 L494.25,1044.83 L494.50,1044.88 L494.75,1044.92 L495.00,1044.96 L495.25,1044.99 L495.50,1045.02 L495.50,1045.20 L495.50,1045.20" stroke="#231f20" stroke-width="1.15" fill="none" stroke-linejoin="round"/>
<path d="M532.10,1045.20 L532.10,1045.20 L532.10,1045.02 L532.35,1044.99 L532.60,1044.96 L532.85,1044.92 L533.10,1044.88 L533.35,1044.83 L533.60,1044.78 L533.85,1044.72 L534.10,1044.66 L534.35,1044.59 L534.60,1044.51 L534.85,1044.43 L535.10,1044.33 L535.35,1044.24 L535.60,1044.13 L535.85,1044.02 L536.10,1043.90 L536.35,1043.78 L536.50,1043.70 L536.60,1043.65 L536.85,1043.51 L537.10,1043.37 L537.35,1043.22 L537.60,1043.08 L537.85,1042.93 L538.10,1042.77 L538.35,1040.90 L538.40,1040.25 L538.60,1037.62 L538.85,1034.28 L539.10,1030.88 L539.35,1027.45 L539.60,1023.98 L539.85,1020.48 L540.10,1016.97 L540.35,1013.43 L540.60,1009.87 L540.85,1006.29 L541.10,1002.70 L541.35,999.09 L541.60,995.48 L541.85,991.84 L542.10,988.20 L542.35,991.84 L542.60,995.48 L542.85,999.09 L543.10,1002.70 L543.35,1006.29 L543.60,1009.87 L543.85,1013.43 L544.10,1016.97 L544.35,1020.48 L544.60,1023.98 L544.70,1025.37 L544.85,1027.45 L545.10,1030.88 L545.35,1034.28 L545.60,1037.62 L545.85,1040.90 L546.10,1042.77 L546.35,1042.93 L546.60,1043.08 L546.85,1043.22 L547.10,1043.37 L547.35,1043.51 L547.60,1043.65 L547.85,1043.78 L548.10,1043.90 L548.35,1044.02 L548.60,1044.13 L548.85,1044.24 L549.10,1044.33 L549.35,1044.43 L549.60,1044.51 L549.85,1044.59 L550.10,1044.66 L550.35,1044.72 L550.60,1044.78 L550.85,1044.83 L551.10,1044.88 L551.35,1044.92 L551.60,1044.96 L551.85,1044.99 L552.10,1045.02 L552.10,1045.20 L552.10,1045.20" stroke="#231f20" stroke-width="1.15" fill="none" stroke-linejoin="round"/>
<path d="M512.50,1045.20 L512.50,1045.20 L512.50,1045.20 L512.75,1044.64 L513.00,1044.12 L513.25,1043.64 L513.50,1043.25 L513.75,1042.95 L514.00,1042.76 L514.25,1042.70 L514.50,1042.76 L514.75,1042.95 L515.00,1043.25 L515.25,1043.64 L515.50,1044.12 L515.75,1044.64 L516.00,1045.20 L516.00,1045.20 L516.00,1045.20" stroke="#231f20" stroke-width="1.15" fill="none" stroke-linejoin="round"/>
<path d="M281.40,1045.20 L281.40,1045.20 L281.40,1045.20 L281.65,1045.04 L281.90,1044.84 L282.15,1044.62 L282.40,1044.39 L282.65,1044.15 L282.90,1043.89 L283.15,1043.63 L283.40,1043.37 L283.65,1043.11 L283.90,1042.86 L284.15,1042.61 L284.40,1042.37 L284.65,1042.14 L284.70,1042.10 L284.90,1042.28 L285.15,1042.51 L285.40,1042.76 L285.65,1043.01 L285.90,1043.27 L286.15,1043.53 L286.40,1043.79 L286.65,1044.04 L286.90,1044.29 L287.15,1044.53 L287.40,1044.43 L287.65,1043.64 L287.90,1042.69 L288.15,1041.52 L288.40,1040.20 L288.65,1038.83 L288.90,1037.41 L289.15,1035.97 L289.40,1034.54 L289.65,1033.11 L289.90,1031.72 L290.15,1030.38 L290.40,1029.09 L290.60,1028.10 L290.65,1028.34 L290.90,1029.60 L291.15,1030.91 L291.40,1032.27 L291.65,1033.68 L291.90,1035.11 L292.15,1036.55 L292.40,1037.98 L292.65,1039.38 L292.90,1040.74 L293.15,1041.56 L293.40,1039.99 L293.65,1037.84 L293.90,1035.19 L294.15,1031.40 L294.40,1027.42 L294.65,1023.31 L294.90,1019.12 L295.15,1014.92 L295.40,1010.75 L295.65,1006.67 L295.90,1002.72 L296.15,998.92 L296.40,995.30 L296.65,998.92 L296.90,1002.72 L297.15,1006.67 L297.40,1010.75 L297.65,1014.92 L297.90,1019.12 L298.15,1023.31 L298.40,1027.42 L298.65,1031.40 L298.90,1035.15 L299.15,1033.96 L299.40,1031.46 L299.65,1027.88 L299.90,1021.53 L300.15,1014.35 L300.40,1006.91 L300.65,999.32 L300.90,991.68 L301.15,984.09 L301.40,976.64 L301.65,969.40 L301.90,962.44 L302.15,955.79 L302.20,954.50 L302.40,959.74 L302.65,966.58 L302.90,973.72 L303.15,981.09 L303.40,988.64 L303.65,996.27 L303.90,1003.89 L304.15,1011.40 L304.40,1018.70 L304.65,1025.67 L304.90,1032.22 L305.15,1035.09 L305.40,1034.09 L305.65,1028.81 L305.90,1021.18 L306.15,1013.07 L306.40,1004.62 L306.65,995.95 L306.90,987.17 L307.15,978.41 L307.40,969.76 L307.65,961.33 L307.90,953.19 L308.15,945.40 L308.30,940.90 L308.40,943.88 L308.65,951.60 L308.90,959.68 L309.15,968.06 L309.40,976.67 L309.65,985.41 L309.90,994.20 L310.15,1002.90 L310.40,1011.41 L310.65,1019.59 L310.90,1027.33 L311.15,1033.56 L311.40,1038.12 L311.65,1040.31 L311.90,1038.04 L312.15,1035.62 L312.40,1033.10 L312.65,1030.51 L312.90,1027.90 L313.15,1025.28 L313.40,1022.71 L313.65,1020.19 L313.90,1017.76 L314.15,1015.44 L314.30,1014.10 L314.40,1014.99 L314.65,1017.29 L314.90,1019.70 L315.15,1022.20 L315.40,1024.76 L315.65,1027.37 L315.90,1029.99 L316.15,1032.59 L316.40,1035.12 L316.65,1037.56 L316.90,1039.78 L317.15,1041.64 L317.40,1043.23 L317.65,1044.17 L317.90,1043.80 L318.15,1043.41 L318.40,1043.01 L318.65,1042.61 L318.90,1042.21 L319.15,1041.81 L319.40,1041.42 L319.65,1041.04 L319.90,1040.68 L320.10,1040.40 L320.15,1040.47 L320.40,1040.82 L320.65,1041.19 L320.90,1041.57 L321.15,1041.97 L321.40,1042.37 L321.65,1042.77 L321.90,1043.17 L322.15,1043.57 L322.40,1043.95 L322.65,1044.31 L322.90,1044.64 L323.15,1044.95 L323.40,1045.20 L323.40,1045.20 L323.40,1045.20" stroke="#231f20" stroke-width="1.25" fill="none" stroke-linejoin="round"/>
</svg>
</div></body></html>
